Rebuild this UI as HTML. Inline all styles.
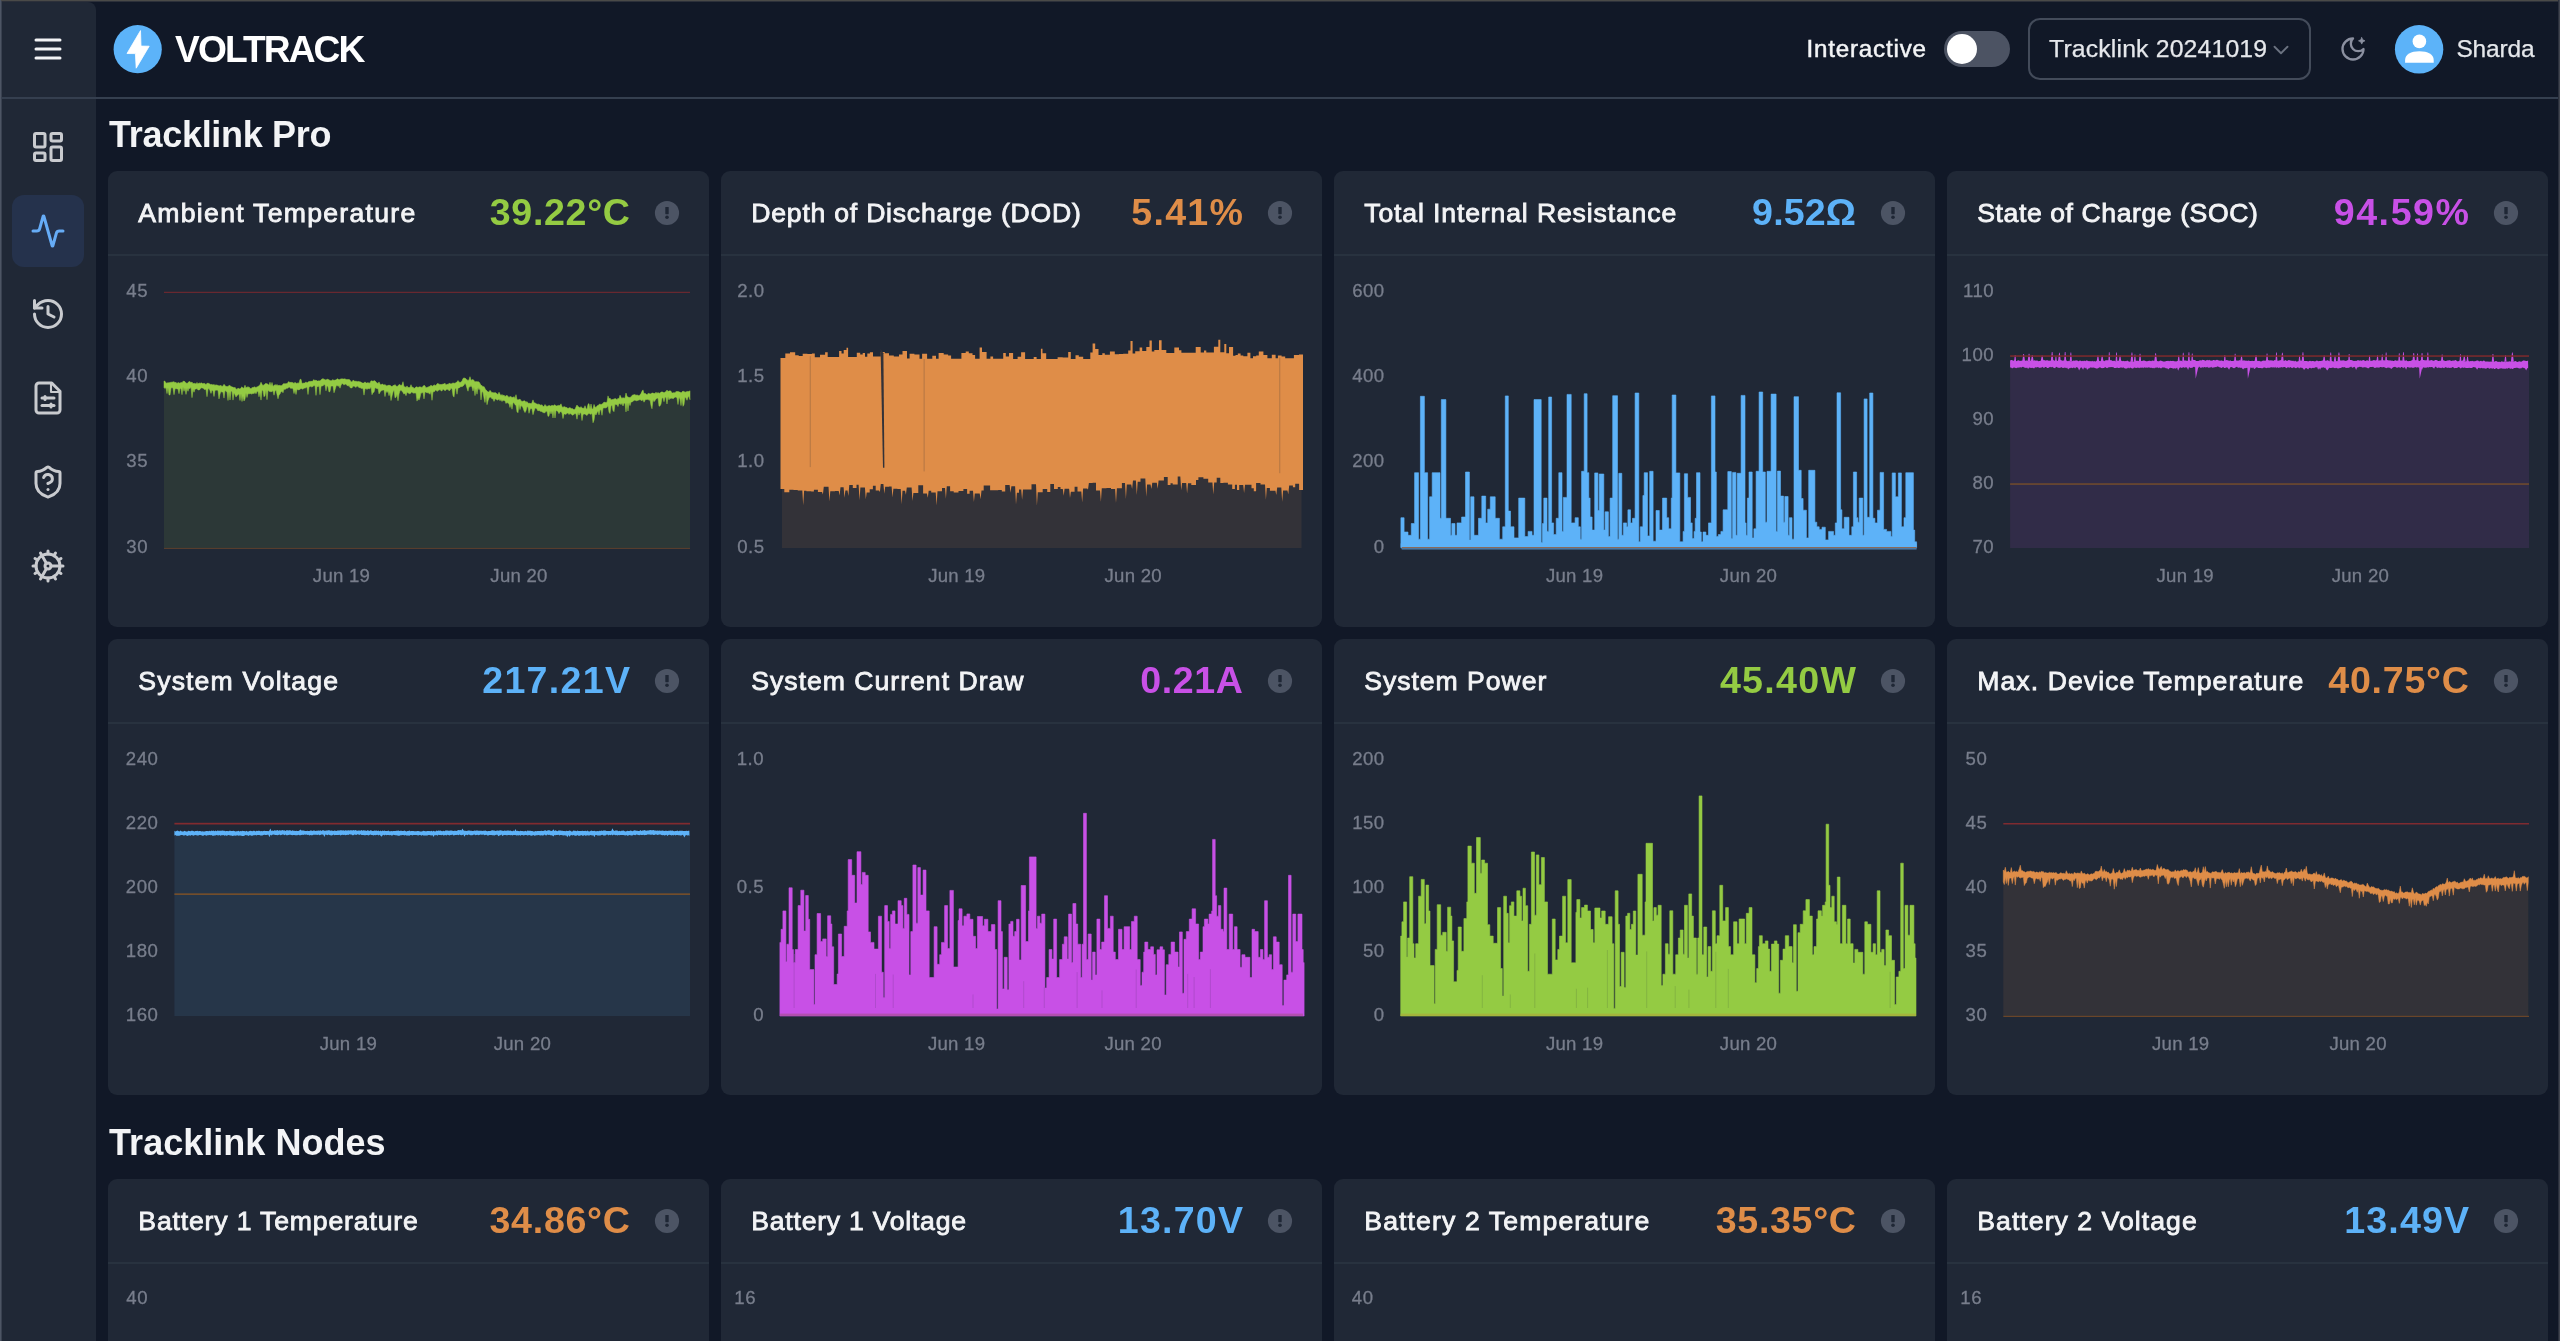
<!DOCTYPE html>
<html lang="en"><head><meta charset="utf-8"><title>VOLTRACK</title>
<style>
html,body{margin:0;padding:0;background:#111827;width:2560px;height:1341px;overflow:hidden}
body{width:2560px;height:1341px;position:relative;overflow:hidden;font-family:"Liberation Sans", sans-serif;}
.abs{position:absolute;display:block}
.t{position:absolute;white-space:pre;line-height:1;}
#sidebar{position:absolute;left:0;top:2px;width:96px;height:1339px;background:#202836;border-top-right-radius:8px}
#hdrline{position:absolute;left:0;top:97px;width:2560px;height:2px;background:#353f4f}
#active{position:absolute;left:12px;top:195px;width:72px;height:72px;border-radius:12px;background:#25324c}
.card{position:absolute;background:#202836;border-radius:9px;overflow:hidden}
.divider{position:absolute;left:0;top:83px;width:100%;height:2px;background:#28323f}
#toggle{position:absolute;left:1944px;top:31px;width:66px;height:36px;border-radius:18px;background:#4c5363}
#knob{position:absolute;left:3px;top:3px;width:30px;height:30px;border-radius:15px;background:#fff}
#select{position:absolute;left:2028px;top:18px;width:279px;height:58px;border:2px solid #434b5a;border-radius:12px}
#content{position:absolute;left:0;top:0;width:2560px;height:1341px;overflow:hidden;will-change:transform}
#winT{position:absolute;left:0;top:0;width:2560px;height:1px;background:#4a4a48}
#winT2{position:absolute;left:0;top:1px;width:2560px;height:1px;background:#2c303a}
#winL{position:absolute;left:0;top:0;width:1px;height:1341px;background:#4d5564}
#winL2{position:absolute;left:1px;top:1px;width:1px;height:1340px;background:#394150}
#winR{position:absolute;left:2558px;top:0;width:1px;height:1341px;background:#2a2f3c}
#winR2{position:absolute;left:2559px;top:0;width:1px;height:1341px;background:#41454f}
</style></head><body>
<div id="sidebar"></div>
<div id="hdrline"></div>
<div id="active"></div>
<div id="toggle"><div id="knob"></div></div>
<div id="select"></div>
<svg class="abs" style="left:112px;top:24px" width="52" height="52" viewBox="0 0 52 52"><circle cx="25.7" cy="25.2" r="24.1" fill="#5cb3f9"/><path d="M28.5 6.6 L15 29.5 L23.4 29.6 L24.2 44.2 L37.2 22.2 L29 22.1Z" fill="#fff" stroke="#fff" stroke-width="0.8" stroke-linejoin="round"/></svg>
<svg class="abs" style="left:2393px;top:23px" width="52" height="52" viewBox="0 0 52 52"><circle cx="26.1" cy="26.3" r="24.2" fill="#5cb3f9"/><circle cx="26.4" cy="18.4" r="6.8" fill="#fff"/><path d="M12.1 39.7 V37 C12.1 31.5 18 28.2 26.4 28.2 S40.7 31.5 40.7 37 V39.7Z" fill="#fff"/></svg>
<svg class="abs" style="left:29.799999999999997px;top:31.299999999999997px" width="36" height="36" viewBox="0 0 24 24" fill="none" stroke="#f3f4f6" stroke-width="2" stroke-linecap="round" stroke-linejoin="round"><path d="M4 12h16"/><path d="M4 6h16"/><path d="M4 18h16"/></svg><svg class="abs" style="left:30.0px;top:128.5px" width="36" height="36" viewBox="0 0 24 24" fill="none" stroke="#c9cbcf" stroke-width="2" stroke-linecap="round" stroke-linejoin="round"><rect width="7" height="9" x="3" y="3" rx="1"/><rect width="7" height="5" x="14" y="3" rx="1"/><rect width="7" height="9" x="14" y="12" rx="1"/><rect width="7" height="5" x="3" y="16" rx="1"/></svg><svg class="abs" style="left:30.0px;top:212.5px" width="36" height="36" viewBox="0 0 24 24" fill="none" stroke="#66acf6" stroke-width="2" stroke-linecap="round" stroke-linejoin="round"><path d="M22 12h-2.48a2 2 0 0 0-1.93 1.46l-2.35 8.36a.25.25 0 0 1-.48 0L9.24 2.18a.25.25 0 0 0-.48 0l-2.35 8.36A2 2 0 0 1 4.49 12H2"/></svg><svg class="abs" style="left:30.0px;top:296.0px" width="36" height="36" viewBox="0 0 24 24" fill="none" stroke="#c9cbcf" stroke-width="2" stroke-linecap="round" stroke-linejoin="round"><path d="M3 12a9 9 0 1 0 9-9 9.75 9.75 0 0 0-6.74 2.74L3 8"/><path d="M3 3v5h5"/><path d="M12 7v5l4 2"/></svg><svg class="abs" style="left:30.0px;top:380.0px" width="36" height="36" viewBox="0 0 24 24" fill="none" stroke="#c9cbcf" stroke-width="2" stroke-linecap="round" stroke-linejoin="round"><path d="M14.5 2H6a2 2 0 0 0-2 2v16a2 2 0 0 0 2 2h12a2 2 0 0 0 2-2V7.5L14.5 2z"/><path d="M14 2v6h6" stroke-width="1.4"/><path d="M8 12h8"/><path d="M10 11v2"/><path d="M8 17h8"/><path d="M14 16v2"/></svg><svg class="abs" style="left:30.0px;top:464.0px" width="36" height="36" viewBox="0 0 24 24" fill="none" stroke="#c9cbcf" stroke-width="2" stroke-linecap="round" stroke-linejoin="round"><path d="M20 13c0 5-3.5 7.5-7.66 8.95a1 1 0 0 1-.67-.01C7.5 20.5 4 18 4 13V6a1 1 0 0 1 1-1c2 0 4.5-1.2 6.24-2.72a1.17 1.17 0 0 1 1.52 0C14.51 3.81 17 5 19 5a1 1 0 0 1 1 1z"/><path d="M9.1 9a3 3 0 0 1 5.82 1c0 2-3 3-3 3"/><path d="M12 17h.01"/></svg><svg class="abs" style="left:29.6px;top:547.8px" width="36" height="36" viewBox="0 0 24 24" fill="none" stroke="#c9cbcf" stroke-width="2" stroke-linecap="round" stroke-linejoin="round"><path d="M12 20a8 8 0 1 0 0-16 8 8 0 0 0 0 16Z"/><path d="M12 14a2 2 0 1 0 0-4 2 2 0 0 0 0 4Z"/><path d="M12 2v2"/><path d="M12 22v-2"/><path d="m17 20.66-1-1.73"/><path d="M11 10.27 7 3.34"/><path d="m20.66 17-1.73-1"/><path d="m3.34 7 1.73 1"/><path d="M14 12h8"/><path d="M2 12h2"/><path d="m20.66 7-1.73 1"/><path d="m3.34 17 1.73-1"/><path d="m17 3.34-1 1.73"/><path d="m11 13.73-4 6.93"/></svg><svg class="abs" style="left:2267.6px;top:36.9px" width="26" height="26" viewBox="0 0 24 24" fill="none" stroke="#6b7280" stroke-width="1.7" stroke-linecap="round" stroke-linejoin="round"><path d="m6 9 6 6 6-6"/></svg><svg class="abs" style="left:2339.0px;top:35.0px" width="28" height="28" viewBox="0 0 24 24" fill="none" stroke="#8b90a0" stroke-width="2" stroke-linecap="round" stroke-linejoin="round"><path d="M12 3a6 6 0 0 0 9 9 9 9 0 1 1-9-9Z"/><path d="M19.5 2.2 l0.9 1.9 1.9 0.9 -1.9 0.9 -0.9 1.9 -0.9 -1.9 -1.9 -0.9 1.9 -0.9z" fill="#8b90a0" stroke-width="0.6"/></svg>
<div id="content"><div class="card" style="left:108px;top:171px;width:600.8px;height:455.5px"><div class="divider"></div></div><svg class="abs" style="left:653px;top:198.5px" width="28" height="28" viewBox="0 0 28 28"><circle cx="14" cy="14" r="12.1" fill="#4c5464"/><rect x="12.3" y="8" width="3.4" height="7.2" rx="0.6" fill="#1f2735"/><circle cx="14" cy="18.3" r="1.8" fill="#1f2735"/></svg><svg class="abs" style="left:108px;top:257px" width="600" height="369.5" viewBox="108 257 600 369.5" font-family="Liberation Sans, sans-serif" font-size="18.6" fill="#787e8c"><path d="M164 381 165 381.3 166 383 167 383.2 168 382.5 169 383.1 170 382.2 171 382.5 172 381.9 173 382.2 174 381.6 175 382.7 176 382.3 177 383.4 178 382.4 179 382.9 180 383.3 181 382.2 182 382.9 183 381.3 184 381.3 185 381.7 186 382.9 187 383.6 188 382.5 189 381.7 190 381.6 191 382.7 192 382 193 383.7 194 383.3 195 383.4 196 383.9 197 382.4 198 384.2 199 382.8 200 383.5 201 382.9 202 382.9 203 383.9 204 383 205 383.9 206 384.4 207 383.3 208 383.3 209 383.4 210 384.2 211 384.7 212 384.2 213 385.2 214 384.3 215 385.4 216 384.7 217 385.3 218 385.3 219 386.1 220 385.6 221 385.5 222 386.4 223 386.1 224 384.3 225 385.4 226 386.6 227 386.5 228 386.4 229 385.5 230 385.4 231 386.4 232 387.1 233 387 234 387.9 235 387.2 236 388.9 237 389.6 238 388 239 388.8 240 388.9 241 387.7 242 386.8 243 388.3 244 388.1 245 385.2 246 388.3 247 386.7 248 387.4 249 386.8 250 388.4 251 388.7 252 387.5 253 387.8 254 386.7 255 387.3 256 387.4 257 386.9 258 386.5 259 385.7 260 384.9 261 382.2 262 384.3 263 385.5 264 384.9 265 383.8 266 383.6 267 383.7 268 384.2 269 385.3 270 382.2 271 386.1 272 382.4 273 386.5 274 385.6 275 384.5 276 385.4 277 384.4 278 385.8 279 385.3 280 385.5 281 385.7 282 385.5 283 384.1 284 383.6 285 383.9 286 383.6 287 383.7 288 382.3 289 381.6 290 382.8 291 382.1 292 382.7 293 382.5 294 383.5 295 382.2 296 383.2 297 383.5 298 382.7 299 383.4 300 379.4 301 379.3 302 383.5 303 383.3 304 382.9 305 383.1 306 381.8 307 382.9 308 382.2 309 381.2 310 381.7 311 381.1 312 381.6 313 380.5 314 379.6 315 380.7 316 380 317 381.1 318 381 319 380.7 320 381.1 321 379.7 322 379.2 323 378.6 324 379.4 325 379.5 326 380.3 327 379.1 328 379.4 329 379.7 330 380.6 331 380.7 332 380.4 333 379.5 334 380.6 335 379.9 336 379.9 337 379 338 378.8 339 380 340 379.2 341 379 342 378.8 343 379 344 379 345 378.8 346 379.5 347 379.5 348 379.6 349 379.4 350 380.1 351 381.8 352 382 353 380.2 354 380.7 355 381.6 356 380.9 357 381.8 358 381.4 359 381.5 360 381.9 361 381.9 362 383 363 383 364 383.1 365 381.8 366 383.1 367 383 368 382.6 369 383.2 370 382.9 371 380.8 372 381 373 381.3 374 380.8 375 380.8 376 382.1 377 383.1 378 383.4 379 381.9 380 383.9 381 384.9 382 384 383 384.3 384 385.3 385 384.4 386 385.4 387 386.2 388 385.1 389 385.6 390 385.1 391 386.3 392 386.6 393 385.5 394 385.6 395 384.6 396 386.1 397 386.4 398 386.1 399 384.6 400 384.7 401 385.6 402 385.1 403 381.7 404 386.8 405 386.8 406 387.4 407 385.9 408 387.4 409 387.6 410 387.4 411 384.7 412 387.4 413 387.1 414 388.5 415 388.1 416 386.8 417 387 418 387.5 419 387 420 386.8 421 387.2 422 387.4 423 386.3 424 385.3 425 385.9 426 388 427 387.2 428 387.3 429 386.4 430 386.5 431 385.1 432 386.2 433 386.1 434 384.7 435 385.5 436 385.6 437 383.8 438 383.5 439 384.2 440 384.4 441 384.6 442 384.4 443 384.1 444 383.9 445 383.2 446 385.2 447 384.1 448 384.5 449 383.3 450 383.5 451 384.1 452 383.4 453 382.9 454 383.2 455 383.3 456 382.6 457 382.1 458 380.5 459 381.9 460 382.6 461 382 462 380.9 463 378.5 464 377.9 465 378.2 466 378.8 467 379.9 468 380.4 469 379.9 470 376.7 471 380.2 472 379.9 473 379.4 474 380.5 475 381.9 476 381.5 477 381.8 478 381.7 479 381.9 480 383.4 481 385.6 482 385.5 483 387 484 386.5 485 388.4 486 390.2 487 390.8 488 391.9 489 392.1 490 390.3 491 391.5 492 392.7 493 392.4 494 393.1 495 392.4 496 393.1 497 393.8 498 394.6 499 392.2 500 394.2 501 395.4 502 394.4 503 395.7 504 395.1 505 396.4 506 395.9 507 395.2 508 396.5 509 397.4 510 396.5 511 396.7 512 397.4 513 397.6 514 396.6 515 398.7 516 394.7 517 399.8 518 399.8 519 399.7 520 399.1 521 400.8 522 401.4 523 401.3 524 400.8 525 400.9 526 402.4 527 401.5 528 403.1 529 403.5 530 403 531 404.1 532 402.5 533 399.9 534 402.9 535 402.8 536 403.7 537 404 538 404.4 539 403.9 540 404.9 541 405.3 542 404.7 543 406.6 544 406.4 545 404.5 546 405.9 547 406.4 548 406 549 405.5 550 405.8 551 406.3 552 405 553 406.1 554 405.2 555 404.7 556 406 557 405.9 558 405.4 559 405.4 560 405.5 561 403.8 562 406.8 563 407.4 564 406.6 565 407 566 407.5 567 407.6 568 408.6 569 407.9 570 407.6 571 408.5 572 408.7 573 408.8 574 409.8 575 409.2 576 407 577 405 578 406.8 579 406.9 580 407.9 581 406.6 582 408.3 583 407.9 584 408.5 585 405.7 586 408.6 587 409.3 588 404.3 589 403.6 590 409.3 591 404 592 409 593 408.9 594 404.4 595 407.1 596 407.4 597 405.9 598 405.5 599 404.4 600 404 601 404.7 602 404.1 603 403.5 604 402 605 402.5 606 402.4 607 402.3 608 395.9 609 398.9 610 398.1 611 399.7 612 399.8 613 399.2 614 399.2 615 398.4 616 398.9 617 399.8 618 398.2 619 399 620 395.2 621 397.3 622 398.4 623 397.6 624 398.3 625 398 626 393 627 396.4 628 397 629 397.6 630 397.5 631 397 632 395.4 633 395 634 394.7 635 394.6 636 395.5 637 394.8 638 395.5 639 395.8 640 394.8 641 393.6 642 391.3 643 389.9 644 393.8 645 393.3 646 394.1 647 394.9 648 393.4 649 393.4 650 394 651 393.8 652 392.9 653 393.1 654 393.6 655 393.4 656 392.2 657 393.4 658 392.5 659 393.3 660 393.2 661 392 662 391.9 663 392.1 664 393 665 391.9 666 391.8 667 390 668 391.6 669 391.1 670 390.8 671 391.2 672 393.1 673 392.9 674 392.6 675 393 676 391.4 677 391.8 678 391.3 679 392 680 392 681 392.9 682 391.8 683 391.3 684 391.4 685 392.2 686 391.9 687 391.5 688 391.4 689 391.6 690 390.7 L690 548 L164 548Z" fill="#2c3837"/><path d="M164 381 165 381.3 166 383 167 383.2 168 382.5 169 383.1 170 382.2 171 382.5 172 381.9 173 382.2 174 381.6 175 382.7 176 382.3 177 383.4 178 382.4 179 382.9 180 383.3 181 382.2 182 382.9 183 381.3 184 381.3 185 381.7 186 382.9 187 383.6 188 382.5 189 381.7 190 381.6 191 382.7 192 382 193 383.7 194 383.3 195 383.4 196 383.9 197 382.4 198 384.2 199 382.8 200 383.5 201 382.9 202 382.9 203 383.9 204 383 205 383.9 206 384.4 207 383.3 208 383.3 209 383.4 210 384.2 211 384.7 212 384.2 213 385.2 214 384.3 215 385.4 216 384.7 217 385.3 218 385.3 219 386.1 220 385.6 221 385.5 222 386.4 223 386.1 224 384.3 225 385.4 226 386.6 227 386.5 228 386.4 229 385.5 230 385.4 231 386.4 232 387.1 233 387 234 387.9 235 387.2 236 388.9 237 389.6 238 388 239 388.8 240 388.9 241 387.7 242 386.8 243 388.3 244 388.1 245 385.2 246 388.3 247 386.7 248 387.4 249 386.8 250 388.4 251 388.7 252 387.5 253 387.8 254 386.7 255 387.3 256 387.4 257 386.9 258 386.5 259 385.7 260 384.9 261 382.2 262 384.3 263 385.5 264 384.9 265 383.8 266 383.6 267 383.7 268 384.2 269 385.3 270 382.2 271 386.1 272 382.4 273 386.5 274 385.6 275 384.5 276 385.4 277 384.4 278 385.8 279 385.3 280 385.5 281 385.7 282 385.5 283 384.1 284 383.6 285 383.9 286 383.6 287 383.7 288 382.3 289 381.6 290 382.8 291 382.1 292 382.7 293 382.5 294 383.5 295 382.2 296 383.2 297 383.5 298 382.7 299 383.4 300 379.4 301 379.3 302 383.5 303 383.3 304 382.9 305 383.1 306 381.8 307 382.9 308 382.2 309 381.2 310 381.7 311 381.1 312 381.6 313 380.5 314 379.6 315 380.7 316 380 317 381.1 318 381 319 380.7 320 381.1 321 379.7 322 379.2 323 378.6 324 379.4 325 379.5 326 380.3 327 379.1 328 379.4 329 379.7 330 380.6 331 380.7 332 380.4 333 379.5 334 380.6 335 379.9 336 379.9 337 379 338 378.8 339 380 340 379.2 341 379 342 378.8 343 379 344 379 345 378.8 346 379.5 347 379.5 348 379.6 349 379.4 350 380.1 351 381.8 352 382 353 380.2 354 380.7 355 381.6 356 380.9 357 381.8 358 381.4 359 381.5 360 381.9 361 381.9 362 383 363 383 364 383.1 365 381.8 366 383.1 367 383 368 382.6 369 383.2 370 382.9 371 380.8 372 381 373 381.3 374 380.8 375 380.8 376 382.1 377 383.1 378 383.4 379 381.9 380 383.9 381 384.9 382 384 383 384.3 384 385.3 385 384.4 386 385.4 387 386.2 388 385.1 389 385.6 390 385.1 391 386.3 392 386.6 393 385.5 394 385.6 395 384.6 396 386.1 397 386.4 398 386.1 399 384.6 400 384.7 401 385.6 402 385.1 403 381.7 404 386.8 405 386.8 406 387.4 407 385.9 408 387.4 409 387.6 410 387.4 411 384.7 412 387.4 413 387.1 414 388.5 415 388.1 416 386.8 417 387 418 387.5 419 387 420 386.8 421 387.2 422 387.4 423 386.3 424 385.3 425 385.9 426 388 427 387.2 428 387.3 429 386.4 430 386.5 431 385.1 432 386.2 433 386.1 434 384.7 435 385.5 436 385.6 437 383.8 438 383.5 439 384.2 440 384.4 441 384.6 442 384.4 443 384.1 444 383.9 445 383.2 446 385.2 447 384.1 448 384.5 449 383.3 450 383.5 451 384.1 452 383.4 453 382.9 454 383.2 455 383.3 456 382.6 457 382.1 458 380.5 459 381.9 460 382.6 461 382 462 380.9 463 378.5 464 377.9 465 378.2 466 378.8 467 379.9 468 380.4 469 379.9 470 376.7 471 380.2 472 379.9 473 379.4 474 380.5 475 381.9 476 381.5 477 381.8 478 381.7 479 381.9 480 383.4 481 385.6 482 385.5 483 387 484 386.5 485 388.4 486 390.2 487 390.8 488 391.9 489 392.1 490 390.3 491 391.5 492 392.7 493 392.4 494 393.1 495 392.4 496 393.1 497 393.8 498 394.6 499 392.2 500 394.2 501 395.4 502 394.4 503 395.7 504 395.1 505 396.4 506 395.9 507 395.2 508 396.5 509 397.4 510 396.5 511 396.7 512 397.4 513 397.6 514 396.6 515 398.7 516 394.7 517 399.8 518 399.8 519 399.7 520 399.1 521 400.8 522 401.4 523 401.3 524 400.8 525 400.9 526 402.4 527 401.5 528 403.1 529 403.5 530 403 531 404.1 532 402.5 533 399.9 534 402.9 535 402.8 536 403.7 537 404 538 404.4 539 403.9 540 404.9 541 405.3 542 404.7 543 406.6 544 406.4 545 404.5 546 405.9 547 406.4 548 406 549 405.5 550 405.8 551 406.3 552 405 553 406.1 554 405.2 555 404.7 556 406 557 405.9 558 405.4 559 405.4 560 405.5 561 403.8 562 406.8 563 407.4 564 406.6 565 407 566 407.5 567 407.6 568 408.6 569 407.9 570 407.6 571 408.5 572 408.7 573 408.8 574 409.8 575 409.2 576 407 577 405 578 406.8 579 406.9 580 407.9 581 406.6 582 408.3 583 407.9 584 408.5 585 405.7 586 408.6 587 409.3 588 404.3 589 403.6 590 409.3 591 404 592 409 593 408.9 594 404.4 595 407.1 596 407.4 597 405.9 598 405.5 599 404.4 600 404 601 404.7 602 404.1 603 403.5 604 402 605 402.5 606 402.4 607 402.3 608 395.9 609 398.9 610 398.1 611 399.7 612 399.8 613 399.2 614 399.2 615 398.4 616 398.9 617 399.8 618 398.2 619 399 620 395.2 621 397.3 622 398.4 623 397.6 624 398.3 625 398 626 393 627 396.4 628 397 629 397.6 630 397.5 631 397 632 395.4 633 395 634 394.7 635 394.6 636 395.5 637 394.8 638 395.5 639 395.8 640 394.8 641 393.6 642 391.3 643 389.9 644 393.8 645 393.3 646 394.1 647 394.9 648 393.4 649 393.4 650 394 651 393.8 652 392.9 653 393.1 654 393.6 655 393.4 656 392.2 657 393.4 658 392.5 659 393.3 660 393.2 661 392 662 391.9 663 392.1 664 393 665 391.9 666 391.8 667 390 668 391.6 669 391.1 670 390.8 671 391.2 672 393.1 673 392.9 674 392.6 675 393 676 391.4 677 391.8 678 391.3 679 392 680 392 681 392.9 682 391.8 683 391.3 684 391.4 685 392.2 686 391.9 687 391.5 688 391.4 689 391.6 690 390.7 L690 399.7 689 396.3 688 397.2 687 400.3 686 397.9 685 397 684 404.5 683 406.3 682 398 681 405.6 680 399.1 679 397.3 678 404.5 677 398 676 397 675 397.2 674 397.8 673 399 672 397.8 671 398.8 670 397.9 669 399.8 668 396.4 667 404 666 397.2 665 397.3 664 401.7 663 397.7 662 397.9 661 404 660 405.9 659 406.2 658 398 657 398.2 656 398.9 655 400.6 654 401.7 653 399.6 652 408.8 651 405.6 650 399.5 649 400.4 648 399 647 399.7 646 399.3 645 400.2 644 402.2 643 399.4 642 400.8 641 400.2 640 399.5 639 400.1 638 400.2 637 400.7 636 400.8 635 400.1 634 400.4 633 401.3 632 401.9 631 402 630 405.6 629 402.4 628 411 627 402.5 626 411.9 625 403.1 624 403.3 623 406 622 403.1 621 404.7 620 403.5 619 403.5 618 406.6 617 404.5 616 404.7 615 404.1 614 411.7 613 410.6 612 404.9 611 406.1 610 413.6 609 412.1 608 405.4 607 407.3 606 407.8 605 408.1 604 407.7 603 408.2 602 415.3 601 409.7 600 410 599 414.9 598 410.7 597 412.7 596 415 595 413.6 594 420.2 593 422.8 592 413.6 591 414 590 414.3 589 413.3 588 414 587 415.6 586 414.8 585 414.1 584 414 583 414.5 582 420.6 581 413 580 412.8 579 415.2 578 412.2 577 419.2 576 414.1 575 413.4 574 414.2 573 415.2 572 414.9 571 413.8 570 413.6 569 414.6 568 413.1 567 413 566 414.5 565 413.9 564 413.9 563 418.6 562 413.1 561 411.4 560 411.9 559 413.7 558 411.7 557 410.7 556 410.5 555 418 554 410.1 553 418 552 410.9 551 413.9 550 410.9 549 415.9 548 416.4 547 411.3 546 411.2 545 412.7 544 412.8 543 412.5 542 411.7 541 411.2 540 411.3 539 410.2 538 411 537 409.3 536 408 535 408.2 534 411.3 533 414.7 532 409.2 531 408.2 530 409.7 529 413.3 528 407.1 527 406.7 526 410.8 525 412.6 524 410.8 523 407.8 522 406.3 521 405.6 520 409.6 519 404.3 518 412.8 517 411.8 516 405.2 515 404.7 514 402.7 513 402.7 512 409.2 511 403.8 510 407.5 509 403.8 508 403.1 507 402.5 506 403.5 505 400.7 504 400.4 503 400.3 502 401.5 501 399.6 500 400.8 499 399.1 498 399.7 497 400.2 496 398.7 495 399.1 494 401.4 493 398.6 492 398.9 491 397.2 490 397.1 489 398.3 488 400.8 487 404.7 486 394.6 485 402.5 484 397.9 483 392.3 482 391.5 481 399.9 480 388.6 479 389.7 478 387.6 477 394.2 476 388.4 475 395.6 474 387.3 473 391.1 472 387.3 471 385.5 470 387.1 469 386.6 468 391.2 467 388.2 466 384.7 465 383.3 464 385 463 386 462 386.7 461 386.4 460 387.2 459 387.9 458 387.9 457 394.2 456 388.1 455 389.1 454 397.1 453 395.6 452 388.4 451 388.3 450 390.3 449 390.7 448 389.5 447 389.1 446 390.1 445 390.7 444 389.8 443 389 442 390.9 441 390.8 440 389.5 439 390.1 438 390.6 437 391.4 436 389.7 435 390.8 434 392.1 433 391.4 432 400.3 431 391.2 430 394.3 429 393.3 428 392.6 427 392.9 426 392.1 425 392.1 424 398.9 423 392.1 422 393.3 421 392.4 420 397.5 419 400.1 418 398.1 417 401.1 416 392.8 415 393.2 414 392.8 413 393.3 412 391.8 411 392.8 410 393.7 409 393.6 408 392.8 407 392.3 406 395.7 405 393 404 394.2 403 392.5 402 391.3 401 390 400 390.8 399 394.1 398 400.8 397 394.3 396 397.3 395 397.8 394 390 393 391.9 392 396 391 400.6 390 391.9 389 395.7 388 390.9 387 392.6 386 390.8 385 396.6 384 389.9 383 389.9 382 390.5 381 390.8 380 392.4 379 393.9 378 388.2 377 389 376 387.7 375 388.1 374 392.2 373 392.4 372 394.7 371 386.8 370 388.8 369 388.6 368 388.4 367 389.5 366 388.4 365 388.7 364 395.1 363 388.2 362 388.6 361 388.2 360 387.5 359 387.7 358 386.6 357 385.8 356 387.4 355 386.7 354 385.9 353 386.3 352 387.9 351 387.9 350 387.5 349 385.3 348 386.2 347 385.2 346 384.3 345 384 344 385.1 343 383.7 342 383.6 341 385.3 340 388.2 339 385.5 338 386.4 337 385 336 386.5 335 389.8 334 392.8 333 385.9 332 386.1 331 386.1 330 391.5 329 392 328 386.8 327 385.8 326 390.8 325 384.8 324 384.4 323 385.9 322 385.8 321 386.5 320 394.7 319 385.6 318 387 317 385.9 316 395.4 315 385.8 314 385.5 313 386.2 312 387.2 311 386.3 310 386.4 309 386.9 308 394.5 307 387.1 306 387.6 305 388.2 304 387.9 303 389.3 302 388.7 301 388.4 300 389.2 299 389.9 298 389.7 297 389.2 296 394.5 295 389.4 294 393.6 293 388.7 292 388.1 291 388.6 290 387.8 289 386.8 288 388.3 287 388.1 286 388.7 285 389.5 284 389.1 283 392.8 282 391.2 281 391.8 280 394 279 395 278 398.8 277 394.5 276 390.1 275 390.9 274 395.2 273 390.5 272 391.7 271 391.5 270 391.8 269 391 268 390.3 267 399.7 266 390.1 265 395.7 264 396.8 263 390.6 262 390.3 261 400.1 260 391.9 259 396.8 258 391.3 257 391.4 256 393.8 255 392.2 254 393.8 253 393 252 394.3 251 393.4 250 393.7 249 393.8 248 393.7 247 397.5 246 393.1 245 399 244 401 243 396 242 401.5 241 393.5 240 400.5 239 393.8 238 394.7 237 395.6 236 397.1 235 394.8 234 392.9 233 400.1 232 391.4 231 391 230 400 229 391.6 228 400.5 227 391.6 226 391.5 225 390.5 224 398.1 223 392.1 222 392.1 221 391.5 220 394.1 219 398.9 218 390.5 217 390.1 216 390.3 215 390.3 214 396.5 213 391.1 212 390 211 393.4 210 390.6 209 388.6 208 389.1 207 396.7 206 389.2 205 389.5 204 389.3 203 388.1 202 387.9 201 387.8 200 389.4 199 389.9 198 390 197 388.5 196 388.9 195 389.1 194 392.2 193 389.2 192 397.7 191 386.9 190 388.7 189 388 188 391.3 187 388.3 186 394.4 185 387.9 184 391.3 183 387 182 394.7 181 388.5 180 388.4 179 393.7 178 389 177 388.9 176 388.5 175 388.9 174 394.7 173 388.2 172 387.5 171 388.2 170 395 169 394.9 168 387.6 167 393.6 166 387.4 165 388.5 164 387.5Z" fill="#94cb43" stroke="#94cb43" stroke-width="0.5" stroke-linejoin="round"/><rect x="164" y="291.8" width="526" height="1.0" fill="#7b2a30"/><rect x="164" y="547.9" width="526" height="1.0" fill="#5e402d"/><g stroke="#787e8c" stroke-width="0.3"><text x="148.0" y="296.6" text-anchor="end" letter-spacing="0.5">45</text><text x="148.0" y="381.9" text-anchor="end" letter-spacing="0.5">40</text><text x="148.0" y="467.3" text-anchor="end" letter-spacing="0.5">35</text><text x="148.0" y="552.6" text-anchor="end" letter-spacing="0.5">30</text><text x="341.5" y="581.6" text-anchor="middle" letter-spacing="0.25">Jun 19</text><text x="519.0" y="581.6" text-anchor="middle" letter-spacing="0.25">Jun 20</text></g></svg><div class="card" style="left:721px;top:171px;width:600.8px;height:455.5px"><div class="divider"></div></div><svg class="abs" style="left:1266px;top:198.5px" width="28" height="28" viewBox="0 0 28 28"><circle cx="14" cy="14" r="12.1" fill="#4c5464"/><rect x="12.3" y="8" width="3.4" height="7.2" rx="0.6" fill="#1f2735"/><circle cx="14" cy="18.3" r="1.8" fill="#1f2735"/></svg><svg class="abs" style="left:721px;top:257px" width="600" height="369.5" viewBox="721 257 600 369.5" font-family="Liberation Sans, sans-serif" font-size="18.6" fill="#787e8c"><rect x="782.0" y="475.0" width="519.5" height="73.0" fill="#333238"/><path d="M780.5 357.9V357.9H785.3V353.5H790V352.3H795.2V355.2H798.7V356H802.7V353.7H807.4V354.1H811.9V353.6H814.8V357.3H820V354.7H825.1V352.3H827.7V357.1H831.9V357.1H835.9V357H839.1V350.9H841.5V353.6H843.7V350H846.5V347.8H848.1V356.9H851.5V356.9H856.8V352.7H860.2V354.4H862.7V353.1H865V356.7H867.3V353.6H869.9V352.3H873V356.6H878.2V356.6H880.8V352.1H884.8V353.2H889V355.5H893.8V356.5H899V354.6H902.5V351H907V358.6H909.6V353.8H914.4V354.4H919.5V358.7H922.1V353.8H927.1V358.7H932.3V355.8H936V358.7H938.6V353H943.7V354.5H948.1V355.6H951.1V358.7H954.8V358.7H957.2V358.7H961.4V353.1H965.7V351.4H968.8V353.2H972.5V355H975.1V358.8H979.6V347.6H982V352.1H986.6V358.8H990.4V356.6H993.1V358.8H998.2V358.8H1003.2V352.9H1005.8V356.4H1009V353.1H1013.1V358.9H1017.6V356.8H1021.1V352.3H1025.1V358.9H1028.5V358.9H1030.8V358.9H1033.7V357.1H1036.6V358.9H1040.9V348.7H1042.5V353.3H1046.2V358.9H1050.5V358.9H1053V358.9H1057.6V357.3H1062.7V357.4H1068.2V351.9H1070.8V359H1075.5V355.2H1078.8V356.8H1083.2V359H1087.3V359H1090.3V352.4H1092.6V343.5H1095.2V349.1H1098.5V355H1102.3V353.2H1104.8V354.7H1109.9V351.4H1114.8V354.2H1119V354H1123.2V353.8H1128.2V350.5H1130.5V341.1H1132.6V353.5H1135.2V351.3H1139.6V347.6H1142.2V351H1146.3V347H1149.5V340.6H1151.8V351.6H1154.3V349.9H1159V340.3H1161.6V350.1H1166.3V353H1170.6V353H1174.3V347.5H1179V350.3H1181.4V352.8H1186.8V352.7H1190.6V352.7H1195.7V347H1200.7V352.5H1204V350.5H1206.3V352.4H1210.8V352.4H1213.9V346.7H1218.3V339.7H1220.3V352.2H1224.3V344.1H1226.3V353.3H1229V346.9H1233.1V355.8H1235.5V355H1237.8V353.5H1240.6V355.5H1243.3V356.3H1247.4V352.8H1250.4V358.3H1253V356.3H1256.2V355.4H1258.8V351.4H1263.4V355H1267.4V358.3H1271.8V354.7H1275.6V358.3H1277.9V355.5H1281.6V356.5H1285.2V358.3H1290.1V358.3H1293.9V355H1299V354.4H1303 L1303 490.1 L1299.1 490.1 L1299.1 483.7 L1295.2 483.7 L1295.2 487.3 L1292.9 487.3 L1292.9 485.4 L1289.2 485.4 L1288.3 494.2 L1287.4 490.5 L1283.1 490.5 L1282.2 501.8 L1281.3 487.6 L1277.2 487.6 L1276.3 495 L1275.4 490.7 L1272.1 490.7 L1272.1 490.8 L1269.9 490.8 L1269.9 487.9 L1266.8 487.9 L1265.9 499.7 L1265 484.5 L1260.5 484.5 L1260.5 483.1 L1256.1 483.1 L1256.1 491.2 L1253.8 491.2 L1253.8 488.2 L1251.5 488.2 L1251.5 484.8 L1247.4 484.8 L1247.4 484.8 L1245 484.8 L1244.1 493 L1243.2 484.9 L1239.2 484.9 L1239.2 490 L1237 490 L1237 484.8 L1234.9 484.8 L1234.9 489 L1232.2 489 L1232.2 484.4 L1227.9 484.4 L1227.9 482.7 L1223.4 482.7 L1223.4 482.9 L1220.3 482.9 L1220.3 477.7 L1216.7 477.7 L1216.7 482.6 L1214.2 482.6 L1213.3 494.6 L1212.4 482.5 L1208.2 482.5 L1208.2 478.8 L1203.4 478.8 L1203.4 477.2 L1198.4 477.2 L1198.4 480 L1196 480 L1196 484.9 L1191.3 484.9 L1191.3 483.3 L1188 483.3 L1187.1 493.6 L1186.2 483.1 L1182.1 483.1 L1181.2 490.3 L1180.3 476.4 L1177.7 476.4 L1177.7 484.6 L1172.7 484.6 L1172.7 483.3 L1170.5 483.3 L1170.5 485 L1167.7 485 L1167.7 477.1 L1163.9 477.1 L1163.9 480.4 L1160.6 480.4 L1160.6 480.5 L1158.6 480.5 L1157.7 488.7 L1156.8 482.8 L1152.3 482.8 L1151.4 489 L1150.5 484.6 L1147.1 484.6 L1146.2 496.7 L1145.3 478.4 L1140.5 478.4 L1140.5 481.7 L1137.7 481.7 L1136.8 495.1 L1135.9 480.5 L1133 480.5 L1132.1 489 L1131.2 484.5 L1126.8 484.5 L1125.9 498.9 L1125 483.1 L1121.9 483.1 L1121.9 488.3 L1116.9 488.3 L1116 502.9 L1115.1 489 L1111 489 L1111 487.9 L1106.5 487.9 L1106.5 488.3 L1101.8 488.3 L1100.9 501.7 L1100 490.4 L1096 490.4 L1096 482.8 L1092.6 482.8 L1092.6 483.1 L1088.9 483.1 L1088 489.5 L1087.1 488.6 L1083.1 488.6 L1082.2 502.4 L1081.3 491.6 L1077.5 491.6 L1077.5 486.7 L1074.6 486.7 L1074.6 491.7 L1070.9 491.7 L1070 498.1 L1069.1 488.8 L1064.6 488.8 L1063.7 495.8 L1062.8 488.9 L1060.5 488.9 L1060.5 486.9 L1057.8 486.9 L1057.8 489 L1054 489 L1054 484 L1050.3 484 L1050.3 492.1 L1047.2 492.1 L1047.2 489.1 L1042.7 489.1 L1042.7 492.2 L1037.8 492.2 L1036.9 505.8 L1036 484.3 L1031.5 484.3 L1031.5 489.4 L1026.5 489.4 L1026.5 489.5 L1023 489.5 L1022.1 499.8 L1021.2 489.6 L1019 489.6 L1019 492.7 L1016.9 492.7 L1016 504.6 L1015.1 486.3 L1011.4 486.3 L1010.5 492.8 L1009.6 484.9 L1005.2 484.9 L1005.2 491.5 L1001.8 491.5 L1001.8 490.1 L998.2 490.1 L998.2 490.2 L994.1 490.2 L994.1 490.3 L990.1 490.3 L990.1 485.4 L987 485.4 L987 485.4 L983.7 485.4 L983.7 490.5 L981.5 490.5 L980.6 499.2 L979.7 493.6 L974.8 493.6 L973.9 502.1 L973 490.8 L969.6 490.8 L969.6 493.8 L967.1 493.8 L967.1 488.9 L963.4 488.9 L963.4 491 L958.5 491 L958.5 492.6 L953.7 492.6 L953.7 491.2 L950.1 491.2 L950.1 486.3 L946.8 486.3 L945.9 498.7 L945 487.9 L942 487.9 L942 491.3 L937.5 491.3 L936.6 505.6 L935.7 492.4 L931.2 492.4 L931.2 490.7 L928.7 490.7 L927.8 497.8 L926.9 493.4 L923.1 493.4 L923.1 485.2 L918.3 485.2 L918.3 493 L913.4 493 L912.5 501 L911.6 487.6 L906.8 487.6 L905.9 494.8 L905 490.7 L902.5 490.7 L901.6 504.2 L900.7 488.9 L897.4 488.9 L897.4 488.8 L893.4 488.8 L892.5 497.5 L891.6 486.6 L889 486.6 L889 486.7 L885.2 486.7 L884.3 493.8 L883.4 483.9 L880.8 483.9 L879.9 491.9 L879 490.6 L875.7 490.6 L875.7 485.7 L872.9 485.7 L872.9 489.3 L869.7 489.3 L869.7 492.4 L866.7 492.4 L865.8 499.2 L864.9 487.6 L860.4 487.6 L859.5 500.3 L858.6 484.8 L856.5 484.8 L856.5 487.9 L852.8 487.9 L852.8 485.1 L849.3 485.1 L848.4 496 L847.5 490.5 L845.4 490.5 L844.5 497.8 L843.6 487.2 L840.5 487.2 L839.6 495.6 L838.7 491.1 L835 491.1 L835 491.3 L830.3 491.3 L829.4 501.5 L828.5 486.7 L823.8 486.7 L822.9 494.6 L822 492.1 L817.9 492.1 L817.9 489.8 L813.9 489.8 L813.9 491.4 L811.2 491.4 L811.2 491.2 L806.4 491.2 L806.4 490.8 L804.1 490.8 L803.2 505.3 L802.3 490.4 L797.7 490.4 L797.7 490 L793.5 490 L793.5 489.7 L789.3 489.7 L789.3 492.3 L784.3 492.3 L784.3 488.9 L780.5 488.9Z" fill="#df8d48"/><path d="M880.6 349.0 L883.4 353.3 L884.4 467.8 L883.0 467.8Z" fill="#333238"/><rect x="809.8" y="356.1" width="0.8" height="111.0" fill="#aa7143"/><rect x="923.7" y="359.0" width="0.8" height="112.4" fill="#aa7143"/><rect x="1279.4" y="357.6" width="0.8" height="115.6" fill="#aa7143"/><g stroke="#787e8c" stroke-width="0.3"><text x="764.5" y="296.6" text-anchor="end" letter-spacing="0.5">2.0</text><text x="764.5" y="381.9" text-anchor="end" letter-spacing="0.5">1.5</text><text x="764.5" y="467.3" text-anchor="end" letter-spacing="0.5">1.0</text><text x="764.5" y="552.6" text-anchor="end" letter-spacing="0.5">0.5</text><text x="956.8" y="581.6" text-anchor="middle" letter-spacing="0.25">Jun 19</text><text x="1133.2" y="581.6" text-anchor="middle" letter-spacing="0.25">Jun 20</text></g></svg><div class="card" style="left:1334px;top:171px;width:600.8px;height:455.5px"><div class="divider"></div></div><svg class="abs" style="left:1879px;top:198.5px" width="28" height="28" viewBox="0 0 28 28"><circle cx="14" cy="14" r="12.1" fill="#4c5464"/><rect x="12.3" y="8" width="3.4" height="7.2" rx="0.6" fill="#1f2735"/><circle cx="14" cy="18.3" r="1.8" fill="#1f2735"/></svg><svg class="abs" style="left:1334px;top:257px" width="600" height="369.5" viewBox="1334 257 600 369.5" font-family="Liberation Sans, sans-serif" font-size="18.6" fill="#787e8c"><path d="M1400.9 548V517.7H1404.1V532H1408V535.3H1411.3V523.5H1414.6V472.7H1418.5V539.2H1420.4V396.3H1424.4V472.7H1427.6V539.2H1429.6V496.8H1432.2V472.7H1440V518.3H1441.3V399.6H1445.9V518.3H1450.5V535.3H1451.8V523.5H1455V535.3H1457V522.9H1461.6V517H1465.5V472H1469.4V539.9H1470.7V496.8H1474V535.3H1478.5V518.3H1481.8V496.1H1485.7V522.9H1487.7V509.2H1490.3V496.8H1495.2V518.3H1499.4V539.2H1502.7V526.8H1505.3V395.9H1508.3V511.1H1510.5V526.8H1514V537.9H1518.7V498.1H1524.8V536.6H1528.1V531.4H1532V535.3H1534V399.6H1541.2V542.5H1542.5V523.5H1543.8V498.1H1547V531.4H1548.7V397H1551.6V522.9H1553.6V534.6H1556.2V518.3H1558.8V472.7H1562V531.4H1563.3V497.4H1567V394.4H1571.2V522.9H1575.1V517.7H1578.3V526.8H1580.3V539.2H1581.6V471.3H1584.2V393.7H1587.1V472.7H1588.8V498.1H1590.1V517H1592.1V530.1H1594.7V472.9H1597.9V510.5H1599.2V474H1603.8V530.1H1605.1V511.8H1608.4V536.6H1610.1V498.1H1612.7V395.7H1617.5V539.2H1618.8V473.3H1621.8V535.3H1623.4V522.9H1626.6V526.8H1627.9V509.8H1630.5V522.9H1632.5V518.3H1635.1V393H1638.8V541.8H1640.3V526.8H1642.9V495.5H1644.2V472.7H1647.5V535.9H1649.7V471.3H1653.1V541.2H1656V510.5H1659.3V530.1H1662.5V498.1H1666.7V517.7H1668.7V528.8H1671.3V498.1H1672.2V395H1675.9V472.9H1679.8V541.8H1683.1V531.4H1684.4V473.7H1687.6V497.4H1690.5V522.9H1692.2V538.6H1694.1V531.4H1695.2V518.3H1696.5V472.7H1700V532H1701.3V541.8H1703V532H1705.9V535.3H1708.5V522.9H1711.4V395.9H1715V472H1716.3V536.6H1718.3V534.6H1720.9V531.4H1723.1V509.8H1727.8V471.6H1731.3V538.6H1732.6V472.4H1735.9V535.3H1737.2V473.3H1741.1V395.4H1745V522.9H1746.1V535.3H1747.4V498.1H1749V472H1752.2V537.9H1753.9V528.8H1756.1V471.3H1759.1V392H1762.7V472H1765.3V522.2H1767V471.3H1771.1V394.1H1776.1V531.4H1777.4V471.1H1780.5V496.1H1783.5V522.2H1784.8V496.5H1788.1V535.3H1789.4V517.7H1792V539.2H1794V396.7H1798.5V470.3H1801.2V498.5H1803.1V510.2H1806.4V537.9H1808.7V470.3H1814.9V522.2H1816.8V526.8H1819.2V529.4H1822V527.2H1825.3V539.9H1828.6V531.4H1833.5V535.3H1835.3V522.9H1837V392.8H1840.6V509.8H1841.9V528.8H1844.2V517.3H1849V535.3H1851.8V526.8H1853.4V472H1856.6V517.7H1857.9V522.2H1859.2V498.1H1862.8V535.3H1864.1V398.9H1867.1V517.3H1869.7V393H1872.9V518.3H1874.9V522.9H1877.5V510.2H1880.1V472.4H1883.6V529.4H1886.6V531.4H1890.9V536.6H1892.2V472.9H1895.4V496.8H1898.4V472.9H1901.4V526.8H1904V517.7H1905.8V472.7H1913.4V530.1H1914.7V541.8H1916.6V548Z" fill="#5db2f8" stroke="#5db2f8" stroke-width="0.6" stroke-linejoin="miter"/><rect x="1400.7" y="543.4" width="515.9" height="3.6" fill="#5db2f8"/><rect x="1401.7" y="547.0" width="514.9" height="1.3" fill="#8a6a5a"/><rect x="1401.7" y="548.3" width="514.9" height="1.2" fill="#4f88bd"/><g stroke="#787e8c" stroke-width="0.3"><text x="1384.7" y="296.6" text-anchor="end" letter-spacing="0.5">600</text><text x="1384.7" y="381.9" text-anchor="end" letter-spacing="0.5">400</text><text x="1384.7" y="467.3" text-anchor="end" letter-spacing="0.5">200</text><text x="1384.7" y="552.6" text-anchor="end" letter-spacing="0.5">0</text><text x="1574.6" y="581.6" text-anchor="middle" letter-spacing="0.25">Jun 19</text><text x="1748.5" y="581.6" text-anchor="middle" letter-spacing="0.25">Jun 20</text></g></svg><div class="card" style="left:1947px;top:171px;width:600.8px;height:455.5px"><div class="divider"></div></div><svg class="abs" style="left:2492px;top:198.5px" width="28" height="28" viewBox="0 0 28 28"><circle cx="14" cy="14" r="12.1" fill="#4c5464"/><rect x="12.3" y="8" width="3.4" height="7.2" rx="0.6" fill="#1f2735"/><circle cx="14" cy="18.3" r="1.8" fill="#1f2735"/></svg><svg class="abs" style="left:1947px;top:257px" width="600" height="369.5" viewBox="1947 257 600 369.5" font-family="Liberation Sans, sans-serif" font-size="18.6" fill="#787e8c"><rect x="2010.1" y="364.3" width="518.9" height="183.7" fill="#312c48"/><rect x="2010.1" y="483.4" width="518.9000000000001" height="1.3" fill="#7d5129"/><path d="M2010.1 360.6 2011.1 360.1 2012.1 359.9 2013.1 360.8 2014.1 360.5 2015.1 360 2016.1 361.2 2017.1 360.8 2018.1 360.3 2019.1 360.6 2020.1 361 2021.1 360.6 2022.1 360.9 2023.1 360.1 2024.1 361 2025.1 360.8 2026.1 360.5 2027.1 360.6 2028.1 361.2 2029.1 361.3 2030.1 360.5 2031.1 361.2 2032.1 360.6 2033.1 360.9 2034.1 360.3 2035.1 360.6 2036.1 360.8 2037.1 360.2 2038.1 361.2 2039.1 361 2040.1 361.1 2041.1 360.6 2042.1 360.1 2043.1 360.3 2044.1 359.9 2045.1 360.4 2046.1 360.4 2047.1 360.1 2048.1 360.7 2049.1 360.6 2050.1 361 2051.1 360.3 2052.1 360.6 2053.1 360 2054.1 360.4 2055.1 360.8 2056.1 360.3 2057.1 360.9 2058.1 360.6 2059.1 360.2 2060.1 360.1 2061.1 360.1 2062.1 360.8 2063.1 360.4 2064.1 360.6 2065.1 361.3 2066.1 360.3 2067.1 360.9 2068.1 361.2 2069.1 360.6 2070.1 361.6 2071.1 361.5 2072.1 361.2 2073.1 360.6 2074.1 360.7 2075.1 360.6 2076.1 360.6 2077.1 360.3 2078.1 361.2 2079.1 361.1 2080.1 360.2 2081.1 361.3 2082.1 360.8 2083.1 361.2 2084.1 360.5 2085.1 361.2 2086.1 360.4 2087.1 360.5 2088.1 361 2089.1 361.2 2090.1 360.9 2091.1 361.4 2092.1 360.8 2093.1 361.6 2094.1 361 2095.1 361.5 2096.1 361.3 2097.1 360.6 2098.1 360.4 2099.1 360.8 2100.1 361.2 2101.1 360.8 2102.1 361 2103.1 360.4 2104.1 361.2 2105.1 360.5 2106.1 360.3 2107.1 360.2 2108.1 360.3 2109.1 360.2 2110.1 360.3 2111.1 360.1 2112.1 360.8 2113.1 361.1 2114.1 360.5 2115.1 361.3 2116.1 361.2 2117.1 360.9 2118.1 360.5 2119.1 361.2 2120.1 360.4 2121.1 360.5 2122.1 361.2 2123.1 360.8 2124.1 361.3 2125.1 360.9 2126.1 361.3 2127.1 360.6 2128.1 361 2129.1 361.7 2130.1 361.6 2131.1 361.2 2132.1 361.2 2133.1 361.7 2134.1 361.5 2135.1 360.8 2136.1 360.8 2137.1 360.8 2138.1 360.8 2139.1 361.3 2140.1 360.8 2141.1 361.1 2142.1 361.1 2143.1 360.6 2144.1 360.6 2145.1 360.7 2146.1 361.2 2147.1 361.2 2148.1 361.1 2149.1 360.8 2150.1 360.7 2151.1 361.3 2152.1 360.5 2153.1 360.8 2154.1 360.7 2155.1 360.9 2156.1 360.7 2157.1 361.1 2158.1 361.3 2159.1 361.2 2160.1 360.6 2161.1 360.8 2162.1 360.9 2163.1 361.6 2164.1 361.4 2165.1 361.6 2166.1 360.9 2167.1 361 2168.1 360.7 2169.1 361.3 2170.1 360.7 2171.1 361 2172.1 361 2173.1 360.7 2174.1 361.2 2175.1 361.3 2176.1 361.4 2177.1 361.1 2178.1 361.1 2179.1 361 2180.1 360.8 2181.1 360.6 2182.1 361.2 2183.1 361.2 2184.1 360.5 2185.1 360.5 2186.1 360.4 2187.1 361 2188.1 360.6 2189.1 359.9 2190.1 360.6 2191.1 361 2192.1 360.5 2193.1 359.8 2194.1 360.1 2195.1 360.1 2196.1 360.9 2197.1 360.9 2198.1 360.9 2199.1 360.8 2200.1 360 2201.1 360.8 2202.1 359.7 2203.1 359.9 2204.1 359.9 2205.1 360.8 2206.1 360.6 2207.1 359.8 2208.1 360.6 2209.1 359.7 2210.1 360.6 2211.1 360.6 2212.1 360.7 2213.1 360.1 2214.1 360 2215.1 360.5 2216.1 360 2217.1 359.8 2218.1 360.2 2219.1 360.4 2220.1 360.8 2221.1 360.5 2222.1 360.5 2223.1 361.2 2224.1 360.6 2225.1 360.8 2226.1 360.1 2227.1 360.3 2228.1 360.3 2229.1 361.1 2230.1 360.3 2231.1 361.1 2232.1 361.1 2233.1 361 2234.1 360.6 2235.1 360.9 2236.1 360.6 2237.1 360.5 2238.1 360.8 2239.1 360.2 2240.1 360.3 2241.1 360.8 2242.1 361.1 2243.1 360.5 2244.1 360.2 2245.1 360.8 2246.1 360.5 2247.1 361.1 2248.1 360.4 2249.1 360.7 2250.1 361.1 2251.1 360.9 2252.1 360.8 2253.1 361 2254.1 360.9 2255.1 360.8 2256.1 360.8 2257.1 361 2258.1 361.1 2259.1 360.8 2260.1 361.3 2261.1 361.5 2262.1 360.9 2263.1 360.5 2264.1 360.7 2265.1 360.5 2266.1 360.8 2267.1 360.9 2268.1 360.1 2269.1 360.5 2270.1 360.3 2271.1 360.5 2272.1 360.2 2273.1 361.1 2274.1 360.3 2275.1 360 2276.1 360.5 2277.1 360.7 2278.1 360.7 2279.1 360.5 2280.1 360.2 2281.1 360.1 2282.1 361 2283.1 361 2284.1 361.1 2285.1 360 2286.1 360.4 2287.1 361 2288.1 360.2 2289.1 360.1 2290.1 360.5 2291.1 360.6 2292.1 361.1 2293.1 360.5 2294.1 361.4 2295.1 360.4 2296.1 361.4 2297.1 361.6 2298.1 361.3 2299.1 360.9 2300.1 360.5 2301.1 360.7 2302.1 360.5 2303.1 361.6 2304.1 361.1 2305.1 360.9 2306.1 360.9 2307.1 361 2308.1 361.5 2309.1 360.9 2310.1 360.7 2311.1 361.3 2312.1 360.9 2313.1 361.1 2314.1 361.2 2315.1 361.5 2316.1 360.8 2317.1 360.4 2318.1 361.2 2319.1 360.9 2320.1 361.1 2321.1 360.9 2322.1 360.4 2323.1 360.5 2324.1 360.6 2325.1 360.8 2326.1 360.7 2327.1 360.3 2328.1 360.3 2329.1 361.2 2330.1 360.9 2331.1 360.7 2332.1 360.9 2333.1 361.6 2334.1 361.6 2335.1 361.1 2336.1 361.3 2337.1 360.9 2338.1 361.3 2339.1 360.9 2340.1 360.4 2341.1 360.5 2342.1 360.6 2343.1 360.2 2344.1 360.6 2345.1 360.8 2346.1 361 2347.1 360.2 2348.1 360.2 2349.1 359.9 2350.1 360 2351.1 360 2352.1 360.3 2353.1 360.7 2354.1 360.9 2355.1 360.7 2356.1 361 2357.1 360.6 2358.1 360.1 2359.1 360.7 2360.1 360.2 2361.1 360.7 2362.1 360.5 2363.1 360.1 2364.1 360.3 2365.1 361 2366.1 360.8 2367.1 360 2368.1 361 2369.1 360.8 2370.1 361 2371.1 360.7 2372.1 360.8 2373.1 360.3 2374.1 359.9 2375.1 360.5 2376.1 360.2 2377.1 360 2378.1 360.7 2379.1 360.5 2380.1 360.3 2381.1 360.4 2382.1 360.4 2383.1 360.3 2384.1 360.3 2385.1 360.4 2386.1 360.8 2387.1 360 2388.1 360.2 2389.1 360.6 2390.1 360.2 2391.1 360.7 2392.1 360.6 2393.1 361.1 2394.1 361.1 2395.1 360.1 2396.1 360.7 2397.1 360.6 2398.1 360.8 2399.1 360.6 2400.1 360.4 2401.1 360.6 2402.1 360.6 2403.1 361 2404.1 360.3 2405.1 361.1 2406.1 360.1 2407.1 361.1 2408.1 361.2 2409.1 361 2410.1 360.9 2411.1 360.8 2412.1 360.1 2413.1 360.2 2414.1 360.7 2415.1 359.9 2416.1 360.6 2417.1 359.8 2418.1 360.4 2419.1 360.9 2420.1 360.7 2421.1 359.8 2422.1 360.1 2423.1 360.1 2424.1 360 2425.1 360.5 2426.1 359.9 2427.1 360.8 2428.1 360.7 2429.1 360.5 2430.1 360.5 2431.1 359.9 2432.1 360.3 2433.1 360.7 2434.1 360.7 2435.1 360.1 2436.1 360.1 2437.1 360.2 2438.1 360.9 2439.1 361 2440.1 360.6 2441.1 361 2442.1 361 2443.1 360.3 2444.1 360.4 2445.1 361 2446.1 361.1 2447.1 360.4 2448.1 360.6 2449.1 360.3 2450.1 360.3 2451.1 361 2452.1 360.8 2453.1 360.4 2454.1 360.7 2455.1 360.1 2456.1 360.3 2457.1 361.2 2458.1 361.3 2459.1 360.9 2460.1 360.2 2461.1 360.9 2462.1 360.6 2463.1 360.5 2464.1 361.4 2465.1 361.4 2466.1 361.4 2467.1 360.5 2468.1 360.6 2469.1 361.5 2470.1 361.1 2471.1 361.2 2472.1 360.8 2473.1 361.2 2474.1 361.3 2475.1 361.2 2476.1 360.7 2477.1 360.4 2478.1 360.6 2479.1 361.5 2480.1 360.9 2481.1 360.8 2482.1 361.4 2483.1 360.8 2484.1 360.6 2485.1 361.4 2486.1 361.4 2487.1 361.4 2488.1 361.5 2489.1 361.8 2490.1 361.6 2491.1 361.7 2492.1 361.4 2493.1 361.3 2494.1 361.7 2495.1 361.3 2496.1 361 2497.1 361.6 2498.1 361.9 2499.1 361.5 2500.1 362.2 2501.1 361.4 2502.1 361.3 2503.1 361.9 2504.1 361.2 2505.1 362.2 2506.1 361.7 2507.1 361.6 2508.1 361.7 2509.1 361.3 2510.1 361.6 2511.1 361.4 2512.1 361.2 2513.1 361.8 2514.1 361.5 2515.1 361.1 2516.1 361.3 2517.1 361.9 2518.1 361.8 2519.1 361.3 2520.1 361.5 2521.1 361.7 2522.1 361.3 2523.1 360.6 2524.1 360.6 2525.1 360.7 2526.1 361 2527.1 361.1 2528.1 360.5 L2528.1 367.7 2527.1 368.5 2526.1 370.5 2525.1 368.4 2524.1 368.1 2523.1 367.8 2522.1 367.5 2521.1 368.5 2520.1 368.3 2519.1 368.4 2518.1 368 2517.1 367.7 2516.1 367.7 2515.1 368 2514.1 368.1 2513.1 368.7 2512.1 368.9 2511.1 368.2 2510.1 368.9 2509.1 367.7 2508.1 368.2 2507.1 368.8 2506.1 368.3 2505.1 369.1 2504.1 368.6 2503.1 368.8 2502.1 368.5 2501.1 368.3 2500.1 368.6 2499.1 368.8 2498.1 369.3 2497.1 368.5 2496.1 368 2495.1 368.9 2494.1 368.9 2493.1 368 2492.1 369 2491.1 367.9 2490.1 368.4 2489.1 368.7 2488.1 367.7 2487.1 367.9 2486.1 368.8 2485.1 368.6 2484.1 368.3 2483.1 368.3 2482.1 368.3 2481.1 367.8 2480.1 368.4 2479.1 367.8 2478.1 368 2477.1 369.8 2476.1 368 2475.1 367.2 2474.1 367.2 2473.1 367.1 2472.1 368.1 2471.1 368.1 2470.1 368 2469.1 367.8 2468.1 368.1 2467.1 368.1 2466.1 368 2465.1 367.7 2464.1 367.4 2463.1 367.9 2462.1 367.2 2461.1 368.3 2460.1 368.3 2459.1 367 2458.1 367.2 2457.1 367.9 2456.1 368 2455.1 368.1 2454.1 368.2 2453.1 367 2452.1 367.3 2451.1 368.1 2450.1 367.7 2449.1 368 2448.1 367.4 2447.1 368.1 2446.1 367.3 2445.1 367.2 2444.1 368.2 2443.1 367.8 2442.1 367.4 2441.1 368.2 2440.1 367.8 2439.1 367.8 2438.1 367.6 2437.1 368.2 2436.1 366.8 2435.1 366.8 2434.1 368.8 2433.1 367.7 2432.1 367 2431.1 366.9 2430.1 367.2 2429.1 367.1 2428.1 367.7 2427.1 367.1 2426.1 368 2425.1 367.4 2424.1 367.7 2423.1 367.2 2422.1 369.8 2421.1 366.6 2420.1 366.9 2419.1 368.2 2418.1 366.9 2417.1 367.5 2416.1 367.4 2415.1 367 2414.1 367.7 2413.1 367.7 2412.1 367.8 2411.1 367.3 2410.1 367.7 2409.1 367.5 2408.1 367.3 2407.1 367 2406.1 369.7 2405.1 367.4 2404.1 367.2 2403.1 368.3 2402.1 367.1 2401.1 367.1 2400.1 368.3 2399.1 367 2398.1 367.4 2397.1 367.7 2396.1 367.5 2395.1 366.8 2394.1 367.1 2393.1 367.2 2392.1 368.2 2391.1 368.9 2390.1 367.7 2389.1 367.7 2388.1 367.6 2387.1 367.8 2386.1 368.3 2385.1 367.5 2384.1 367.3 2383.1 367.1 2382.1 367.6 2381.1 367 2380.1 367 2379.1 367.8 2378.1 367.4 2377.1 367.4 2376.1 367.4 2375.1 367.9 2374.1 367.8 2373.1 366.8 2372.1 367.1 2371.1 366.9 2370.1 367.1 2369.1 367.7 2368.1 368.5 2367.1 367.8 2366.1 367.5 2365.1 367.3 2364.1 367.2 2363.1 367.6 2362.1 367.6 2361.1 366.8 2360.1 367 2359.1 366.8 2358.1 367.6 2357.1 367.5 2356.1 369.9 2355.1 367.4 2354.1 366.8 2353.1 367.4 2352.1 367.8 2351.1 366.6 2350.1 367.3 2349.1 367.5 2348.1 368 2347.1 367.7 2346.1 367.9 2345.1 367.6 2344.1 366.9 2343.1 367.5 2342.1 367 2341.1 367.9 2340.1 368.1 2339.1 368.3 2338.1 368.6 2337.1 368.2 2336.1 367.8 2335.1 368.3 2334.1 368 2333.1 367.6 2332.1 367.8 2331.1 367.9 2330.1 368 2329.1 367.8 2328.1 369.6 2327.1 370.5 2326.1 369 2325.1 367.4 2324.1 368 2323.1 367 2322.1 368.1 2321.1 367.4 2320.1 369.7 2319.1 367.9 2318.1 369.8 2317.1 367.1 2316.1 367.5 2315.1 367.2 2314.1 368.3 2313.1 367.7 2312.1 367.9 2311.1 368.5 2310.1 367.7 2309.1 367.9 2308.1 369.6 2307.1 368.5 2306.1 368.1 2305.1 368.5 2304.1 370.1 2303.1 368.4 2302.1 367.8 2301.1 367.8 2300.1 367.4 2299.1 368.6 2298.1 367.3 2297.1 367.5 2296.1 368.3 2295.1 368 2294.1 367.3 2293.1 367.5 2292.1 368.2 2291.1 367.5 2290.1 367 2289.1 367.9 2288.1 367 2287.1 367.7 2286.1 368.3 2285.1 367.1 2284.1 366.9 2283.1 367.3 2282.1 367.6 2281.1 367.1 2280.1 367.8 2279.1 367.5 2278.1 367.9 2277.1 367.1 2276.1 368.2 2275.1 366.7 2274.1 368.1 2273.1 366.9 2272.1 367.7 2271.1 367 2270.1 367.8 2269.1 367.7 2268.1 367.7 2267.1 367.7 2266.1 368.2 2265.1 367.4 2264.1 367.6 2263.1 367.8 2262.1 368.6 2261.1 367.9 2260.1 368.1 2259.1 368.1 2258.1 367.9 2257.1 367.2 2256.1 367.6 2255.1 368.4 2254.1 369 2253.1 367.3 2252.1 368.3 2251.1 367.4 2250.1 367.6 2249.1 367.2 2248.1 368 2247.1 367.8 2246.1 368.1 2245.1 368.3 2244.1 368.2 2243.1 369.5 2242.1 368.3 2241.1 367.4 2240.1 367.9 2239.1 367.3 2238.1 368 2237.1 366.8 2236.1 366.9 2235.1 367.8 2234.1 368.2 2233.1 367.9 2232.1 367.2 2231.1 366.9 2230.1 367.6 2229.1 369.8 2228.1 368.2 2227.1 367.2 2226.1 367.6 2225.1 367.9 2224.1 368.1 2223.1 366.8 2222.1 367.8 2221.1 367.9 2220.1 367.3 2219.1 367.2 2218.1 366.6 2217.1 366.6 2216.1 367.2 2215.1 366.9 2214.1 367.6 2213.1 367.5 2212.1 367.8 2211.1 366.8 2210.1 367.7 2209.1 367.4 2208.1 367.8 2207.1 366.7 2206.1 367.4 2205.1 367.2 2204.1 367 2203.1 367.8 2202.1 367.1 2201.1 368 2200.1 367.6 2199.1 366.6 2198.1 367.9 2197.1 367.4 2196.1 367.1 2195.1 367.6 2194.1 366.7 2193.1 367.1 2192.1 367.9 2191.1 367.7 2190.1 368 2189.1 367 2188.1 370 2187.1 367.8 2186.1 367.3 2185.1 367.5 2184.1 367.8 2183.1 367.1 2182.1 368.1 2181.1 367.7 2180.1 367.3 2179.1 368.5 2178.1 370.8 2177.1 367.6 2176.1 368.6 2175.1 368.4 2174.1 368.2 2173.1 368.7 2172.1 368.1 2171.1 368 2170.1 367.7 2169.1 368.4 2168.1 369.4 2167.1 368.1 2166.1 368.4 2165.1 367.7 2164.1 367.4 2163.1 367.5 2162.1 367.4 2161.1 368.6 2160.1 368 2159.1 367.6 2158.1 368.3 2157.1 367 2156.1 367.9 2155.1 367.5 2154.1 368.4 2153.1 367.8 2152.1 368.3 2151.1 367.5 2150.1 368 2149.1 367.2 2148.1 367.4 2147.1 367.8 2146.1 367.4 2145.1 367.7 2144.1 367.3 2143.1 368.3 2142.1 367.2 2141.1 368.1 2140.1 367.5 2139.1 368.3 2138.1 367.4 2137.1 367.8 2136.1 367.9 2135.1 367.7 2134.1 367.4 2133.1 368.5 2132.1 368.4 2131.1 368 2130.1 367.5 2129.1 368.4 2128.1 367.5 2127.1 368.6 2126.1 368.4 2125.1 368.6 2124.1 367.9 2123.1 367.2 2122.1 368.1 2121.1 367.2 2120.1 367.8 2119.1 368.1 2118.1 367.9 2117.1 367.6 2116.1 368.1 2115.1 368 2114.1 367.9 2113.1 367 2112.1 367.2 2111.1 367 2110.1 367.3 2109.1 367.3 2108.1 367.4 2107.1 368.3 2106.1 367.7 2105.1 366.9 2104.1 368.1 2103.1 368.1 2102.1 368.3 2101.1 368.1 2100.1 367.3 2099.1 367.4 2098.1 368.2 2097.1 368.4 2096.1 368.4 2095.1 368.1 2094.1 367.8 2093.1 367.4 2092.1 367.8 2091.1 367.5 2090.1 367.6 2089.1 368.4 2088.1 368.4 2087.1 369.9 2086.1 367.6 2085.1 368.5 2084.1 367.3 2083.1 369.8 2082.1 367.9 2081.1 367.2 2080.1 368.4 2079.1 370.4 2078.1 368.1 2077.1 367.2 2076.1 367.2 2075.1 368.5 2074.1 367.6 2073.1 367.7 2072.1 368.3 2071.1 367.6 2070.1 368.2 2069.1 368.2 2068.1 369.5 2067.1 367.6 2066.1 368.3 2065.1 367.6 2064.1 367.7 2063.1 367.9 2062.1 367.7 2061.1 366.9 2060.1 368 2059.1 367.8 2058.1 367.8 2057.1 367.3 2056.1 366.8 2055.1 368.2 2054.1 368 2053.1 367.6 2052.1 366.8 2051.1 367.5 2050.1 366.7 2049.1 367.4 2048.1 368 2047.1 367.9 2046.1 367 2045.1 366.9 2044.1 368 2043.1 367.4 2042.1 366.7 2041.1 368 2040.1 367.4 2039.1 368 2038.1 367.1 2037.1 367.2 2036.1 367.6 2035.1 367.3 2034.1 368.5 2033.1 367.9 2032.1 367.8 2031.1 367.9 2030.1 367.8 2029.1 367.6 2028.1 369 2027.1 367.5 2026.1 368.1 2025.1 367.8 2024.1 367.5 2023.1 366.8 2022.1 367 2021.1 367.7 2020.1 367.1 2019.1 367.8 2018.1 367.4 2017.1 367.7 2016.1 368.2 2015.1 367.7 2014.1 367.4 2013.1 367.8 2012.1 368.6 2011.1 367.5 2010.1 367.6Z" fill="#c850e6"/><path d="M2014.1 361.8L2014.8 354.9L2015.5 354.9L2016.1 361.8Z M2022.2 361.8L2023.3 354L2024 354L2025.1 361.8Z M2027.5 361.8L2028.7 353.7L2029.4 353.7L2030.5 361.8Z M2030.8 361.8L2031.9 355L2032.6 355L2033.7 361.8Z M2040.6 361.8L2041.8 355.4L2042.5 355.4L2043.6 361.8Z M2050.7 361.8L2051.8 351.9L2052.5 351.9L2053.4 361.8Z M2055 361.8L2055.6 355.9L2056.3 355.9L2056.8 361.8Z M2057.9 361.8L2059.1 352.7L2059.8 352.7L2060.8 361.8Z M2064 361.8L2064.8 352.1L2065.5 352.1L2066.3 361.8Z M2069.7 361.8L2070.5 352.4L2071.2 352.4L2072 361.8Z M2096.6 361.8L2097.6 355.4L2098.3 355.4L2099.2 361.8Z M2100.7 361.8L2101.8 355.5L2102.5 355.5L2103.5 361.8Z M2108.3 361.8L2108.9 352.3L2109.6 352.3L2110.2 361.8Z M2115.5 361.8L2116.2 352.6L2116.9 352.6L2117.4 361.8Z M2118.6 361.8L2119.7 355.5L2120.4 355.5L2121.3 361.8Z M2130.5 361.8L2131.6 352.5L2132.3 352.5L2133.3 361.8Z M2133.9 361.8L2134.6 354.4L2135.3 354.4L2135.9 361.8Z M2138.8 361.8L2139.7 353.8L2140.4 353.8L2141.2 361.8Z M2154.2 361.8L2155.3 353.3L2156 353.3L2157.1 361.8Z M2177.6 361.8L2178.4 355.4L2179.1 355.4L2179.8 361.8Z M2182.2 361.8L2182.9 352.8L2183.6 352.8L2184.2 361.8Z M2187.8 361.8L2188.6 352.3L2189.3 352.3L2189.9 361.8Z M2191.2 361.8L2191.9 353.6L2192.6 353.6L2193.1 361.8Z M2223.8 361.8L2224.5 355.1L2225.2 355.1L2225.8 361.8Z M2234 361.8L2234.8 353.7L2235.5 353.7L2236.2 361.8Z M2240.2 361.8L2241.2 355.8L2241.9 355.8L2242.8 361.8Z M2254.5 361.8L2255.7 355.1L2256.4 355.1L2257.4 361.8Z M2265.9 361.8L2266.7 353.4L2267.4 353.4L2268.2 361.8Z M2275.4 361.8L2276.1 352.6L2276.8 352.6L2277.5 361.8Z M2280.9 361.8L2282 352.8L2282.7 352.8L2283.8 361.8Z M2298.5 361.8L2299.2 355.7L2299.9 355.7L2300.5 361.8Z M2301.6 361.8L2302.6 352.2L2303.3 352.2L2304.2 361.8Z M2322.8 361.8L2323.8 355.4L2324.5 355.4L2325.4 361.8Z M2329.5 361.8L2330.4 352.5L2331.1 352.5L2331.8 361.8Z M2333.7 361.8L2334.7 355.8L2335.4 355.8L2336.2 361.8Z M2337.5 361.8L2338.6 352.4L2339.3 352.4L2340.3 361.8Z M2348.1 361.8L2348.8 354L2349.5 354L2350.1 361.8Z M2368.5 361.8L2369.2 355.6L2369.9 355.6L2370.5 361.8Z M2376.4 361.8L2377.2 355.3L2377.9 355.3L2378.6 361.8Z M2381.1 361.8L2381.9 354.5L2382.6 354.5L2383.2 361.8Z M2385.1 361.8L2385.8 352.6L2386.5 352.6L2387.1 361.8Z M2398.2 361.8L2398.9 353.3L2399.6 353.3L2400.2 361.8Z M2402.3 361.8L2403.1 352.3L2403.8 352.3L2404.5 361.8Z M2412.3 361.8L2413.4 352.9L2414.1 352.9L2415.1 361.8Z M2416.3 361.8L2417.1 353.5L2417.8 353.5L2418.5 361.8Z M2420.7 361.8L2421.7 352.9L2422.4 352.9L2423.2 361.8Z M2426.7 361.8L2427.5 352.5L2428.2 352.5L2428.9 361.8Z M2440.9 361.8L2441.8 354.5L2442.5 354.5L2443.3 361.8Z M2459.5 361.8L2460.1 354.2L2460.8 354.2L2461.4 361.8Z M2462.8 361.8L2463.9 355.7L2464.6 355.7L2465.7 361.8Z M2466.5 361.8L2467.2 355.4L2467.9 355.4L2468.5 361.8Z M2491.7 361.8L2492.6 354L2493.3 354L2494.1 361.8Z M2504.4 361.8L2505.2 355.3L2505.9 355.3L2506.5 361.8Z M2510.9 361.8L2512 352.5L2512.7 352.5L2513.8 361.8Z M2195.1 366.3L2195.7 378.8L2198.5 366.3Z M2247.3 366.3L2247.9 378.8L2250.7 366.3Z M2419.1 366.3L2419.7 378.8L2422.5 366.3Z" fill="#c850e6"/><rect x="2010.1" y="355.2" width="518.9000000000001" height="1.7" fill="#7c2a2e" opacity="0.9"/><g stroke="#787e8c" stroke-width="0.3"><text x="1994.1" y="296.6" text-anchor="end" letter-spacing="0.5">110</text><text x="1994.1" y="360.6" text-anchor="end" letter-spacing="0.5">100</text><text x="1994.1" y="424.6" text-anchor="end" letter-spacing="0.5">90</text><text x="1994.1" y="488.6" text-anchor="end" letter-spacing="0.5">80</text><text x="1994.1" y="552.6" text-anchor="end" letter-spacing="0.5">70</text><text x="2185.2" y="581.6" text-anchor="middle" letter-spacing="0.25">Jun 19</text><text x="2360.4" y="581.6" text-anchor="middle" letter-spacing="0.25">Jun 20</text></g></svg><div class="card" style="left:108px;top:639px;width:600.8px;height:455.5px"><div class="divider"></div></div><svg class="abs" style="left:653px;top:666.5px" width="28" height="28" viewBox="0 0 28 28"><circle cx="14" cy="14" r="12.1" fill="#4c5464"/><rect x="12.3" y="8" width="3.4" height="7.2" rx="0.6" fill="#1f2735"/><circle cx="14" cy="18.3" r="1.8" fill="#1f2735"/></svg><svg class="abs" style="left:108px;top:725px" width="600" height="369.5" viewBox="108 725 600 369.5" font-family="Liberation Sans, sans-serif" font-size="18.6" fill="#787e8c"><rect x="174.4" y="833.0" width="515.6" height="183.0" fill="#263649"/><rect x="174.4" y="822.8" width="515.6" height="1.7" fill="#822b2f"/><rect x="174.4" y="893.4" width="515.6" height="1.5" fill="#7d5129"/><path d="M174.4 830.7 175.4 831.4 176.4 831 177.4 830.6 178.4 831.1 179.4 831.4 180.4 830.6 181.4 831.2 182.4 831.4 183.4 831.4 184.4 830.8 185.4 831.2 186.4 831.6 187.4 831.4 188.4 830.8 189.4 830.9 190.4 831.3 191.4 830.8 192.4 830.8 193.4 831 194.4 831.5 195.4 831 196.4 831 197.4 830.7 198.4 831.2 199.4 831.1 200.4 830.9 201.4 831.4 202.4 831.2 203.4 831.4 204.4 831.5 205.4 831.3 206.4 831 207.4 831.1 208.4 831.2 209.4 830.7 210.4 831.2 211.4 830.6 212.4 830.9 213.4 830.6 214.4 831.2 215.4 830.5 216.4 831.2 217.4 830.5 218.4 830.8 219.4 830.7 220.4 830.7 221.4 830.8 222.4 830.6 223.4 830.7 224.4 830.7 225.4 831.2 226.4 830.9 227.4 831 228.4 831.2 229.4 830.7 230.4 830.7 231.4 831.1 232.4 831.1 233.4 830.8 234.4 831.1 235.4 831.5 236.4 831.2 237.4 831.3 238.4 830.7 239.4 831.4 240.4 831 241.4 831.3 242.4 830.8 243.4 830.9 244.4 830.9 245.4 831.6 246.4 830.7 247.4 831.5 248.4 831.4 249.4 830.9 250.4 830.8 251.4 830.9 252.4 831.3 253.4 830.7 254.4 830.8 255.4 831.5 256.4 830.8 257.4 831.1 258.4 830.7 259.4 830.7 260.4 831.3 261.4 831 262.4 831.3 263.4 830.9 264.4 830.8 265.4 831 266.4 831 267.4 831.1 268.4 831.2 269.4 830.6 270.4 828.6 271.4 831.1 272.4 830.5 273.4 830.9 274.4 830.2 275.4 830.4 276.4 830.5 277.4 830.1 278.4 830.8 279.4 830.2 280.4 830.6 281.4 830.4 282.4 830.1 283.4 830.6 284.4 830.3 285.4 831 286.4 830.2 287.4 830.2 288.4 830.4 289.4 830.2 290.4 830.3 291.4 831 292.4 830.3 293.4 830.7 294.4 830.7 295.4 831.1 296.4 830.7 297.4 831.1 298.4 831 299.4 830.6 300.4 829.4 301.4 830.6 302.4 830.5 303.4 830.5 304.4 830.7 305.4 831 306.4 831 307.4 830.7 308.4 830.9 309.4 831 310.4 830.4 311.4 830.4 312.4 831.1 313.4 830.6 314.4 830.4 315.4 831.1 316.4 830.8 317.4 830.7 318.4 830.6 319.4 830.8 320.4 830.2 321.4 831 322.4 830.3 323.4 830.3 324.4 830.8 325.4 830.7 326.4 830.4 327.4 830.4 328.4 830.3 329.4 830.3 330.4 830.7 331.4 830.4 332.4 830.8 333.4 831 334.4 830.4 335.4 830.7 336.4 830.9 337.4 830.4 338.4 830.4 339.4 830.4 340.4 830.3 341.4 830.2 342.4 830.6 343.4 830.3 344.4 830.7 345.4 830.3 346.4 830.6 347.4 830.5 348.4 830.3 349.4 830.5 350.4 830.3 351.4 830.2 352.4 830.5 353.4 830.1 354.4 830.4 355.4 830 356.4 830.5 357.4 830.8 358.4 830.4 359.4 830.4 360.4 830.7 361.4 830.1 362.4 830.8 363.4 830.3 364.4 830.5 365.4 830.4 366.4 831 367.4 830.2 368.4 830.5 369.4 830.9 370.4 830.2 371.4 830.6 372.4 831 373.4 831 374.4 830.4 375.4 830.8 376.4 830.6 377.4 830.9 378.4 830.4 379.4 831.2 380.4 830.5 381.4 831.3 382.4 830.5 383.4 831.1 384.4 830.5 385.4 831.1 386.4 830.9 387.4 831 388.4 830.6 389.4 831.2 390.4 831.2 391.4 830.9 392.4 831.3 393.4 831.1 394.4 830.9 395.4 831.1 396.4 830.7 397.4 830.8 398.4 830.6 399.4 830.9 400.4 830.7 401.4 830.8 402.4 830.9 403.4 830.9 404.4 830.6 405.4 831.1 406.4 831.4 407.4 830.9 408.4 830.9 409.4 830.6 410.4 831.2 411.4 830.9 412.4 831 413.4 831.1 414.4 831.3 415.4 831.2 416.4 831.3 417.4 831 418.4 831 419.4 831.3 420.4 831.4 421.4 831.4 422.4 831.2 423.4 830.7 424.4 831.1 425.4 831.2 426.4 831.3 427.4 831.1 428.4 831 429.4 831 430.4 831.2 431.4 830.7 432.4 831.4 433.4 830.8 434.4 831.3 435.4 831.4 436.4 830.5 437.4 831 438.4 830.6 439.4 830.7 440.4 830.5 441.4 831 442.4 831.2 443.4 830.8 444.4 831.2 445.4 830.4 446.4 830.5 447.4 830.5 448.4 830.7 449.4 830.8 450.4 830.6 451.4 830.4 452.4 830.8 453.4 830.9 454.4 830.7 455.4 830.8 456.4 830.9 457.4 830.6 458.4 830.1 459.4 830.2 460.4 830.1 461.4 830.5 462.4 828.5 463.4 830.3 464.4 830.7 465.4 830.8 466.4 830.9 467.4 830.7 468.4 830.6 469.4 830.4 470.4 830.8 471.4 830.7 472.4 830.9 473.4 831 474.4 830.4 475.4 830.7 476.4 830.4 477.4 830.4 478.4 830.8 479.4 830.8 480.4 830.8 481.4 830.8 482.4 830.9 483.4 830.7 484.4 830.8 485.4 830.5 486.4 830.9 487.4 831.2 488.4 831.1 489.4 831.1 490.4 831 491.4 830.4 492.4 830.3 493.4 830.5 494.4 830.4 495.4 831 496.4 830.8 497.4 830.5 498.4 830.7 499.4 830.6 500.4 830.3 501.4 830.4 502.4 830.7 503.4 830.9 504.4 830.5 505.4 830.7 506.4 830.8 507.4 830.6 508.4 830.6 509.4 830.8 510.4 830.4 511.4 830.9 512.4 831.2 513.4 830.5 514.4 831.3 515.4 828.9 516.4 830.9 517.4 830.7 518.4 831 519.4 831.3 520.4 830.7 521.4 830.9 522.4 831 523.4 831.2 524.4 831.3 525.4 830.7 526.4 831.4 527.4 830.6 528.4 830.7 529.4 830.7 530.4 830.7 531.4 831.1 532.4 831.1 533.4 831.4 534.4 831.4 535.4 830.9 536.4 831.2 537.4 831 538.4 831 539.4 831 540.4 831.1 541.4 830.8 542.4 830.9 543.4 831.1 544.4 830.5 545.4 830.3 546.4 831 547.4 830.5 548.4 830.3 549.4 830.2 550.4 830.7 551.4 831 552.4 830.8 553.4 829.3 554.4 830.9 555.4 830.3 556.4 830.7 557.4 831.2 558.4 830.6 559.4 830.6 560.4 830.5 561.4 830.8 562.4 830.7 563.4 830.9 564.4 831 565.4 831.3 566.4 830.7 567.4 831 568.4 831.1 569.4 830.6 570.4 830.7 571.4 831.4 572.4 831.4 573.4 830.6 574.4 830.8 575.4 830.8 576.4 831.2 577.4 830.6 578.4 831 579.4 831 580.4 831.1 581.4 831.1 582.4 830.8 583.4 831.1 584.4 831.1 585.4 830.7 586.4 831.2 587.4 830.6 588.4 831.3 589.4 831.4 590.4 830.9 591.4 830.6 592.4 831.1 593.4 830.9 594.4 830.7 595.4 831.2 596.4 831.3 597.4 830.9 598.4 831.3 599.4 830.8 600.4 830.9 601.4 830.6 602.4 831.1 603.4 830.6 604.4 830.5 605.4 830.5 606.4 831.1 607.4 831.1 608.4 830.9 609.4 831.1 610.4 831 611.4 830.8 612.4 828.3 613.4 830.3 614.4 831 615.4 830.5 616.4 830.6 617.4 830.6 618.4 831.3 619.4 830.7 620.4 831.3 621.4 830.7 622.4 830.8 623.4 830.6 624.4 830.9 625.4 831.4 626.4 831.2 627.4 830.8 628.4 831 629.4 830.9 630.4 830.6 631.4 830.7 632.4 831.2 633.4 830.8 634.4 830.3 635.4 830.5 636.4 830.7 637.4 830.8 638.4 831 639.4 831 640.4 830.1 641.4 831 642.4 830.6 643.4 830.6 644.4 830.1 645.4 830.4 646.4 830.8 647.4 830.6 648.4 830.6 649.4 830.3 650.4 830.1 651.4 830.3 652.4 830.3 653.4 830.1 654.4 830.6 655.4 830.4 656.4 830.8 657.4 830.6 658.4 830.7 659.4 830.4 660.4 830.8 661.4 830.7 662.4 830.5 663.4 830.8 664.4 830.9 665.4 830.7 666.4 830.8 667.4 830.9 668.4 830.7 669.4 830.8 670.4 830.6 671.4 830.8 672.4 830.6 673.4 830.9 674.4 831.2 675.4 831.1 676.4 831.1 677.4 830.6 678.4 831.2 679.4 830.7 680.4 830.8 681.4 830.7 682.4 830.7 683.4 831 684.4 831 685.4 831.1 686.4 830.7 687.4 831.1 688.4 830.8 689.4 830.7 L689.4 835.7 688.4 835.3 687.4 835.6 686.4 834.9 685.4 835.4 684.4 837.6 683.4 835.6 682.4 834.7 681.4 835.5 680.4 835.6 679.4 835.3 678.4 835.2 677.4 834.9 676.4 835.1 675.4 835.4 674.4 834.7 673.4 835.4 672.4 834.9 671.4 835.4 670.4 835 669.4 834.8 668.4 834.9 667.4 836.1 666.4 834.7 665.4 835.3 664.4 835.4 663.4 835.1 662.4 835.3 661.4 835.1 660.4 834.4 659.4 834.5 658.4 834.7 657.4 835.1 656.4 834.5 655.4 834.4 654.4 835 653.4 834.9 652.4 834.4 651.4 834.8 650.4 834.7 649.4 834.5 648.4 834.5 647.4 834.4 646.4 835 645.4 835 644.4 835.2 643.4 834.8 642.4 835 641.4 834.9 640.4 834.7 639.4 835.2 638.4 834.9 637.4 834.7 636.4 834.5 635.4 835.3 634.4 834.9 633.4 834.7 632.4 835.5 631.4 835.4 630.4 835.3 629.4 835 628.4 835.4 627.4 835.8 626.4 834.9 625.4 835.4 624.4 835.2 623.4 834.9 622.4 835.1 621.4 835 620.4 835 619.4 835.3 618.4 834.9 617.4 835.5 616.4 835 615.4 835.2 614.4 834.7 613.4 834.8 612.4 835.6 611.4 834.6 610.4 835.3 609.4 834.8 608.4 835.5 607.4 834.6 606.4 834.8 605.4 835.4 604.4 835.6 603.4 835.4 602.4 834.8 601.4 835.1 600.4 835.4 599.4 835.6 598.4 835.4 597.4 835.5 596.4 835 595.4 834.9 594.4 837.2 593.4 835.2 592.4 835.5 591.4 835.3 590.4 834.9 589.4 835.6 588.4 835.4 587.4 835.3 586.4 835.5 585.4 835.8 584.4 835 583.4 835.7 582.4 835.7 581.4 835 580.4 835.5 579.4 835.7 578.4 835.7 577.4 835.1 576.4 835.8 575.4 835.8 574.4 835.5 573.4 835.1 572.4 835.6 571.4 835 570.4 835.4 569.4 836.8 568.4 834.9 567.4 837.2 566.4 835.6 565.4 835.5 564.4 835.3 563.4 835.5 562.4 835.2 561.4 834.9 560.4 835.1 559.4 835.6 558.4 834.7 557.4 834.9 556.4 835 555.4 835.2 554.4 835.1 553.4 836.6 552.4 835.4 551.4 835.3 550.4 835.3 549.4 834.7 548.4 835.1 547.4 834.6 546.4 835.5 545.4 835.3 544.4 834.6 543.4 835.6 542.4 835.5 541.4 835.2 540.4 835.6 539.4 835.3 538.4 835.1 537.4 835.3 536.4 835.3 535.4 835.6 534.4 835.8 533.4 835.1 532.4 835.5 531.4 835.8 530.4 835.6 529.4 834.9 528.4 835.3 527.4 835.6 526.4 835 525.4 835.1 524.4 835.2 523.4 835.4 522.4 835 521.4 835 520.4 835.8 519.4 835.1 518.4 835.6 517.4 835.3 516.4 835.4 515.4 835.1 514.4 834.9 513.4 835 512.4 835.4 511.4 835.1 510.4 835.2 509.4 835.1 508.4 835 507.4 835.2 506.4 835.3 505.4 834.9 504.4 834.9 503.4 835.2 502.4 836 501.4 834.6 500.4 835.2 499.4 835.4 498.4 836.2 497.4 834.7 496.4 834.8 495.4 835.1 494.4 835.4 493.4 835.2 492.4 835.3 491.4 835.1 490.4 835 489.4 835.1 488.4 835.5 487.4 835.5 486.4 834.7 485.4 835.1 484.4 835.3 483.4 834.6 482.4 834.7 481.4 834.7 480.4 834.5 479.4 834.9 478.4 835.2 477.4 834.8 476.4 835.1 475.4 835.3 474.4 834.5 473.4 834.7 472.4 835.3 471.4 835.2 470.4 835.2 469.4 834.7 468.4 834.5 467.4 835.2 466.4 834.8 465.4 835.1 464.4 836.7 463.4 834.5 462.4 835 461.4 835.3 460.4 835 459.4 834.4 458.4 835.3 457.4 834.8 456.4 835.1 455.4 834.9 454.4 835.2 453.4 835.4 452.4 834.6 451.4 834.9 450.4 834.9 449.4 835.5 448.4 835.1 447.4 834.7 446.4 835.4 445.4 835 444.4 835.3 443.4 835.6 442.4 834.8 441.4 835.3 440.4 835.1 439.4 835.1 438.4 834.8 437.4 835.7 436.4 835.1 435.4 835.3 434.4 835.3 433.4 837 432.4 834.9 431.4 835.6 430.4 835.3 429.4 835 428.4 835 427.4 835.4 426.4 835.4 425.4 835.5 424.4 835.6 423.4 835.6 422.4 835.1 421.4 835.7 420.4 834.9 419.4 835 418.4 835.6 417.4 835.2 416.4 834.9 415.4 835 414.4 835.1 413.4 834.9 412.4 835.4 411.4 835.1 410.4 834.9 409.4 835.8 408.4 835.5 407.4 835.6 406.4 835.4 405.4 834.9 404.4 835.4 403.4 834.9 402.4 835 401.4 835.3 400.4 835.3 399.4 835.7 398.4 835.7 397.4 835.6 396.4 835.2 395.4 835.3 394.4 834.9 393.4 834.8 392.4 835.4 391.4 835.5 390.4 835 389.4 835.2 388.4 835.1 387.4 834.9 386.4 835.2 385.4 834.8 384.4 835.5 383.4 834.8 382.4 835.5 381.4 836.7 380.4 835.5 379.4 834.7 378.4 835.6 377.4 834.8 376.4 835.1 375.4 835.3 374.4 835.1 373.4 835.4 372.4 835 371.4 835 370.4 834.6 369.4 835.1 368.4 835.4 367.4 835 366.4 834.9 365.4 835.3 364.4 835.3 363.4 835 362.4 835.1 361.4 835.1 360.4 834.3 359.4 835 358.4 834.6 357.4 834.3 356.4 835 355.4 834.8 354.4 834.5 353.4 835.2 352.4 835.2 351.4 834.6 350.4 834.5 349.4 834.3 348.4 835.1 347.4 834.8 346.4 835.1 345.4 835.3 344.4 834.8 343.4 835.1 342.4 834.7 341.4 834.9 340.4 835.4 339.4 834.8 338.4 835.1 337.4 834.9 336.4 835.1 335.4 835.1 334.4 835.2 333.4 834.6 332.4 835.3 331.4 835.4 330.4 835.2 329.4 835 328.4 834.6 327.4 835.2 326.4 834.8 325.4 834.4 324.4 837 323.4 834.7 322.4 834.6 321.4 834.6 320.4 835 319.4 835.3 318.4 834.5 317.4 835.1 316.4 834.7 315.4 834.8 314.4 834.8 313.4 834.7 312.4 835.3 311.4 835.3 310.4 835.1 309.4 835.5 308.4 834.7 307.4 835 306.4 834.6 305.4 834.7 304.4 834.6 303.4 834.9 302.4 834.8 301.4 835 300.4 835.2 299.4 835.2 298.4 834.7 297.4 835.2 296.4 835.3 295.4 835.2 294.4 835 293.4 834.9 292.4 835.3 291.4 835.1 290.4 834.7 289.4 834.7 288.4 834.9 287.4 835.2 286.4 835.2 285.4 834.6 284.4 835.3 283.4 834.5 282.4 834.4 281.4 835.1 280.4 835.3 279.4 834.5 278.4 835.1 277.4 835.2 276.4 835.1 275.4 835 274.4 834.8 273.4 834.5 272.4 834.7 271.4 835.4 270.4 834.8 269.4 837.3 268.4 834.8 267.4 834.8 266.4 835.1 265.4 835.1 264.4 834.8 263.4 835 262.4 835.4 261.4 835.6 260.4 835.4 259.4 834.9 258.4 835 257.4 835.1 256.4 835.6 255.4 835.1 254.4 835.3 253.4 835.3 252.4 835.7 251.4 835.8 250.4 835.3 249.4 835.3 248.4 836 247.4 835.3 246.4 835.2 245.4 835.1 244.4 835.8 243.4 835.9 242.4 835.9 241.4 835.8 240.4 835.5 239.4 835.6 238.4 835.7 237.4 835.2 236.4 835.4 235.4 835.7 234.4 835.5 233.4 835.7 232.4 835.9 231.4 835.6 230.4 835.6 229.4 835.2 228.4 834.9 227.4 835.5 226.4 835.7 225.4 835.3 224.4 835.7 223.4 834.9 222.4 835.3 221.4 835.2 220.4 835.7 219.4 835 218.4 835.6 217.4 835.2 216.4 835.1 215.4 835.4 214.4 835.6 213.4 835.7 212.4 835.7 211.4 835 210.4 835.3 209.4 834.9 208.4 835.3 207.4 835.3 206.4 835.8 205.4 835.2 204.4 835 203.4 835.7 202.4 835.7 201.4 835.3 200.4 835 199.4 835.1 198.4 835.5 197.4 835.4 196.4 835.2 195.4 835.1 194.4 835.2 193.4 835.7 192.4 835.2 191.4 835.1 190.4 835.7 189.4 835.2 188.4 835.5 187.4 836 186.4 835.5 185.4 835.1 184.4 835.4 183.4 835.6 182.4 835 181.4 835 180.4 835.2 179.4 835.8 178.4 835.7 177.4 835.7 176.4 835.7 175.4 834.9 174.4 835.4Z" fill="#5db2f8"/><g stroke="#787e8c" stroke-width="0.3"><text x="158.4" y="764.6" text-anchor="end" letter-spacing="0.5">240</text><text x="158.4" y="828.6" text-anchor="end" letter-spacing="0.5">220</text><text x="158.4" y="892.6" text-anchor="end" letter-spacing="0.5">200</text><text x="158.4" y="956.6" text-anchor="end" letter-spacing="0.5">180</text><text x="158.4" y="1020.6" text-anchor="end" letter-spacing="0.5">160</text><text x="348.4" y="1049.6" text-anchor="middle" letter-spacing="0.25">Jun 19</text><text x="522.4" y="1049.6" text-anchor="middle" letter-spacing="0.25">Jun 20</text></g></svg><div class="card" style="left:721px;top:639px;width:600.8px;height:455.5px"><div class="divider"></div></div><svg class="abs" style="left:1266px;top:666.5px" width="28" height="28" viewBox="0 0 28 28"><circle cx="14" cy="14" r="12.1" fill="#4c5464"/><rect x="12.3" y="8" width="3.4" height="7.2" rx="0.6" fill="#1f2735"/><circle cx="14" cy="18.3" r="1.8" fill="#1f2735"/></svg><svg class="abs" style="left:721px;top:725px" width="600" height="369.5" viewBox="721 725 600 369.5" font-family="Liberation Sans, sans-serif" font-size="18.6" fill="#787e8c"><path d="M779.9 1016V942.4H781.1V929.3H782.9V910.9H785.9V961.7H786.9V944.2H789V887.8H792.2V949.5H793.4V962.6H795.2V949.5H798.1V905.6H800.8V890.2H803.9V931.1H805.7V895.5H808.3V919.3H809.7V969.6H813.9V1004.6H815V954.7H817.1V913.5H820.6V941.6H822.7V938.9H826.2V956.5H827.6V915.8H830.7V924H831.9V946.8H833.7V984.5H837.2V974H838.4V934H841.6V956.5H844.2V926.3H847.2V910.9H848.2V859.6H851.7V875.3H854.7V903H857V851.7H860.9V884.6H862.3V872.4H865.2V875.3H868.2V931.9H870.5V942.4H874V949.1H878.4V916.2H881.5V972.2H883.3V997.6H884.7V905.6H887.5V921.4H889.2V948.6H890.6V914.4H892.4V910.9H895V924H898V900.7H901.2V905.6H902.9V928.4H904.3V898.3H906.8V914.4H909V974.9H910.8V931.6H912.9V865H916.1V923.2H917.8V867.6H920.4V895.1H923.1V870.1H926V910.9H929.2V977.5H934.1V926.7H937.1V964.3H939.7V954.7H941.5V942.4H944.6V905.6H947.6V948.6H949.9V890.4H953.4V967H958.1V920.5H959V908.8H962.1V925.8H963.9V916.2H966.9V913.9H969.8V919.3H973V936.3H975.6V948.6H977.4V916.5H982.6V925.8H984.4V919.3H987.9V931.6H991.4V924.6H994.9V949.5H996.7V1009H998.1V900.7H1001V931.6H1002.4V988.9H1004.2V957.3H1007.2V989.8H1008.9V924H1010.7V921.4H1013V936.3H1014.7V931.6H1016.5V919.3H1019.1V960H1021.2V885.5H1025.6V941.6H1028.5V910.9H1029.4V856.9H1036.1V928.4H1037.5V916.2H1039.9V923.2H1041.7V914.1H1044.9V988H1046.7V977.5H1049.1V949.5H1051.9V959.1H1053.7V919.1H1056.6V977.5H1059.6V959.6H1062.4V944.2H1064.2V936.8H1067.2V959.1H1068.6V914.1H1071.5V962.6H1072.9V903.5H1075.9V924H1077.7V944.2H1080.7V977.5H1082.1V944.2H1083.5V813.3H1086.4V959.6H1088.2V934H1091.2V980.1H1092.6V952.1H1095.2V974.9H1096.9V919.1H1099.9V949.5H1101.7V942.1H1104.5V895.7H1107.5V928.4H1110.4V916.2H1113.2V952.1H1115.3V959.6H1118.5V929.3H1122V949.5H1124.1V926.7H1129.7V949.5H1131.5V921.4H1134.3V916.2H1137.2V959.6H1140.2V985.4H1142V972.2H1143.7V952.1H1144.8V942.1H1147.8V949.5H1150.7V946.8H1153.5V954.4H1155.3V974.9H1157V949.8H1160V946.8H1162.7V949.8H1164.4V995H1166.2V964.7H1168.8V954.4H1171.1V942.1H1174.6V952.1H1178.1V967H1179.5V931.9H1182.3V993.3H1184V939.3H1186.3V931.6H1189.3V919.1H1192.1V908.8H1195.6V924H1198.6V959.6H1200.3V952.1H1203V926.7H1204.4V919.1H1207.9V924H1209.1V914.1H1211.7V910.9H1212.6V839.4H1215.2V895.7H1216.6V916.2H1218.4V905.6H1220.8V929.3H1223.1V931.6H1224V888.1H1226.8V949.5H1229.2V914.1H1232.7V949.5H1234.5V926.7H1237.1V949.5H1240.1V967.3H1241.9V954.7H1245V957.3H1249.9V977.5H1252V929.3H1254.6V931.6H1258.2V957.3H1260.4V949.5H1262.9V959.6H1264.6V900.7H1267.4V957.3H1269.2V954.7H1271.6V969.6H1273.4V936.8H1276.2V942.1H1279.2V964.7H1282.2V1005.5H1283.9V980.1H1286.7V974.9H1288.5V875.3H1291.1V972.2H1292.8V914.1H1295.8V941.6H1297.9V914.1H1302V949.5H1303.2V962.6H1304.1V1016Z" fill="#c850e6" stroke="#c850e6" stroke-width="0.6" stroke-linejoin="miter"/><path d="M973 994.5V1008 M875.5 973.9V1008 M1187.7 973.9V1008 M1044.3 987.1V1008 M1023.7 981.2V1008 M1194.1 977V1008 M1102 990.4V1008 M893.2 974.5V1008 M1077.1 972.1V1008 M794.1 954V1008 M1210.4 969.2V1008 M1136.2 969.5V1008" stroke="#a648c3" stroke-width="0.7" fill="none"/><rect x="780.1" y="1013.6" width="522.9" height="2.4" fill="#b24fb0"/><g stroke="#787e8c" stroke-width="0.3"><text x="764.1" y="764.6" text-anchor="end" letter-spacing="0.5">1.0</text><text x="764.1" y="892.6" text-anchor="end" letter-spacing="0.5">0.5</text><text x="764.1" y="1020.6" text-anchor="end" letter-spacing="0.5">0</text><text x="956.6" y="1049.6" text-anchor="middle" letter-spacing="0.25">Jun 19</text><text x="1133.1" y="1049.6" text-anchor="middle" letter-spacing="0.25">Jun 20</text></g></svg><div class="card" style="left:1334px;top:639px;width:600.8px;height:455.5px"><div class="divider"></div></div><svg class="abs" style="left:1879px;top:666.5px" width="28" height="28" viewBox="0 0 28 28"><circle cx="14" cy="14" r="12.1" fill="#4c5464"/><rect x="12.3" y="8" width="3.4" height="7.2" rx="0.6" fill="#1f2735"/><circle cx="14" cy="18.3" r="1.8" fill="#1f2735"/></svg><svg class="abs" style="left:1334px;top:725px" width="600" height="369.5" viewBox="1334 725 600 369.5" font-family="Liberation Sans, sans-serif" font-size="18.6" fill="#787e8c"><path d="M1400.7 1016V936.1H1401.9V921.8H1403.6V901.9H1406.6V957.1H1407.6V938H1409.7V876.7H1412.8V943.7H1414V958H1415.7V943.7H1418.6V896.2H1421.2V879.4H1424.3V923.7H1426V885.1H1428.6V911H1430V965.6H1434.1V1003.7H1435.2V949.4H1437.2V904.7H1440.7V935.2H1442.7V932.3H1446.2V951.3H1447.6V907.2H1450.7V916.1H1451.9V940.9H1453.6V981.8H1457V970.4H1458.2V927H1461.3V951.3H1463.9V918.6H1466.8V901.9H1467.9V846.1H1471.3V863.2H1474.3V893.3H1476.5V837.5H1480.3V873.3H1481.7V860H1484.6V863.2H1487.5V924.7H1489.8V936.1H1493.2V943.3H1497.5V907.6H1500.6V968.5H1502.3V996.1H1503.7V896.2H1506.5V913.3H1508.2V942.8H1509.6V905.7H1511.3V901.9H1513.9V916.1H1516.8V890.8H1519.9V896.2H1521.6V920.9H1523V888.2H1525.4V905.7H1527.7V971.3H1529.4V924.3H1531.4V852H1534.5V915.2H1536.3V854.9H1538.9V884.7H1541.4V857.5H1544.4V901.9H1547.5V974.2H1552.3V919H1555.2V959.9H1557.8V949.4H1559.5V936.1H1562.6V896.2H1565.6V942.8H1567.8V879.6H1571.2V962.8H1575.9V912.3H1576.8V899.6H1579.9V918H1581.6V907.6H1584.5V905.1H1587.4V911H1590.5V929.5H1593.1V942.8H1594.8V908H1600V918H1601.7V911H1605.2V924.3H1608.6V916.7H1612.1V943.7H1613.8V1008.4H1615.2V890.8H1618.1V924.3H1619.5V986.5H1621.2V952.3H1624.1V987.5H1625.8V916.1H1627.6V913.3H1629.8V929.5H1631.5V924.3H1633.3V911H1635.8V955.1H1637.9V874.3H1642.2V935.2H1645.1V901.9H1646V843.3H1652.5V920.9H1653.9V907.6H1656.3V915.2H1658.1V905.3H1661.2V985.6H1662.9V974.2H1665.4V943.7H1668.1V954.2H1669.8V910.8H1672.8V974.2H1675.7V954.8H1678.4V938H1680.2V930H1683.1V954.2H1684.5V905.3H1687.4V958H1688.8V893.9H1691.7V916.1H1693.4V938H1696.4V974.2H1697.7V938H1699.1V795.9H1702V954.8H1703.8V927H1706.7V977H1708.1V946.6H1710.7V971.3H1712.4V910.8H1715.3V943.7H1717V935.7H1719.8V885.3H1722.7V920.9H1725.6V907.6H1728.4V946.6H1730.5V954.8H1733.6V921.8H1737V943.7H1739.1V919H1744.6V943.7H1746.3V913.3H1749.1V907.6H1752V954.8H1754.9V982.7H1756.7V968.5H1758.4V946.6H1759.4V935.7H1762.3V943.7H1765.3V940.9H1768V949.1H1769.7V971.3H1771.5V944.1H1774.4V940.9H1777V944.1H1778.7V993.2H1780.4V960.3H1783V949.1H1785.3V935.7H1788.7V946.6H1792.1V962.8H1793.5V924.7H1796.3V991.3H1798V932.7H1800.2V924.3H1803.2V910.8H1805.9V899.6H1809.4V916.1H1812.3V954.8H1814V946.6H1816.6V919H1818V910.8H1821.4V916.1H1822.6V905.3H1825.2V901.9H1826.1V824.2H1828.7V885.3H1830V907.6H1831.8V896.2H1834.2V921.8H1836.4V924.3H1837.3V877.1H1840V943.7H1842.4V905.3H1845.9V943.7H1847.6V919H1850.2V943.7H1853.1V963.1H1854.8V949.4H1857.9V952.3H1862.8V974.2H1864.8V921.8H1867.4V924.3H1870.9V952.3H1873.1V943.7H1875.5V954.8H1877.2V890.8H1880V952.3H1881.7V949.4H1884.1V965.6H1885.9V930H1888.6V935.7H1891.5V960.3H1894.5V1004.6H1896.2V977H1898.9V971.3H1900.7V863.2H1903.3V968.5H1905V905.3H1907.9V935.2H1910V905.3H1913.9V943.7H1915.1V958H1916V1016Z" fill="#94cb43" stroke="#94cb43" stroke-width="0.6" stroke-linejoin="miter"/><path d="M1576.4 988.8V1008 M1510.3 994.5V1008 M1534.8 953.5V1008 M1675.2 986.1V1008 M1482.3 975.2V1008 M1607.4 950V1008 M1646.7 951.4V1008 M1890.1 971.8V1008 M1587.6 987.7V1008 M1715.8 951.8V1008 M1688.9 989.7V1008 M1728.3 968.9V1008" stroke="#7daa40" stroke-width="0.7" fill="none"/><rect x="1400.7" y="1013.6" width="515.3" height="2.4" fill="#a3b53c"/><g stroke="#787e8c" stroke-width="0.3"><text x="1384.7" y="764.6" text-anchor="end" letter-spacing="0.5">200</text><text x="1384.7" y="828.6" text-anchor="end" letter-spacing="0.5">150</text><text x="1384.7" y="892.6" text-anchor="end" letter-spacing="0.5">100</text><text x="1384.7" y="956.6" text-anchor="end" letter-spacing="0.5">50</text><text x="1384.7" y="1020.6" text-anchor="end" letter-spacing="0.5">0</text><text x="1574.6" y="1049.6" text-anchor="middle" letter-spacing="0.25">Jun 19</text><text x="1748.5" y="1049.6" text-anchor="middle" letter-spacing="0.25">Jun 20</text></g></svg><div class="card" style="left:1947px;top:639px;width:600.8px;height:455.5px"><div class="divider"></div></div><svg class="abs" style="left:2492px;top:666.5px" width="28" height="28" viewBox="0 0 28 28"><circle cx="14" cy="14" r="12.1" fill="#4c5464"/><rect x="12.3" y="8" width="3.4" height="7.2" rx="0.6" fill="#1f2735"/><circle cx="14" cy="18.3" r="1.8" fill="#1f2735"/></svg><svg class="abs" style="left:1947px;top:725px" width="600" height="369.5" viewBox="1947 725 600 369.5" font-family="Liberation Sans, sans-serif" font-size="18.6" fill="#787e8c"><path d="M2003.3 870 2004.3 871.6 2005.3 867.2 2006.3 872.3 2007.3 872 2008.3 871.3 2009.3 872.3 2010.3 872.5 2011.3 867.5 2012.3 872.4 2013.3 871.8 2014.3 871 2015.3 871.9 2016.3 871.2 2017.3 872 2018.3 871.4 2019.3 868.8 2020.3 865.2 2021.3 870.7 2022.3 870.6 2023.3 871.5 2024.3 871.5 2025.3 872.5 2026.3 872 2027.3 871.4 2028.3 871.4 2029.3 871.4 2030.3 870.9 2031.3 871.3 2032.3 871.8 2033.3 871.4 2034.3 871.7 2035.3 872.8 2036.3 872.1 2037.3 872 2038.3 873.1 2039.3 871.7 2040.3 872.6 2041.3 871.2 2042.3 871.8 2043.3 871.5 2044.3 872.9 2045.3 872.4 2046.3 872.8 2047.3 873 2048.3 873.1 2049.3 872.2 2050.3 872.8 2051.3 872.6 2052.3 873.1 2053.3 872.4 2054.3 873.1 2055.3 872.8 2056.3 872.6 2057.3 873.9 2058.3 874.1 2059.3 873.9 2060.3 872.8 2061.3 872.9 2062.3 873.6 2063.3 873.3 2064.3 873.4 2065.3 873.9 2066.3 870.7 2067.3 873 2068.3 874.1 2069.3 873.2 2070.3 874.1 2071.3 873.5 2072.3 873.7 2073.3 874.5 2074.3 872.4 2075.3 873 2076.3 873.4 2077.3 873 2078.3 873.3 2079.3 872.9 2080.3 873.9 2081.3 870.9 2082.3 873.3 2083.3 873.7 2084.3 873 2085.3 874.2 2086.3 874.6 2087.3 873.7 2088.3 874.1 2089.3 874.9 2090.3 874.3 2091.3 873.8 2092.3 874.2 2093.3 873.5 2094.3 873.6 2095.3 871.4 2096.3 871.3 2097.3 871.5 2098.3 871.7 2099.3 870.7 2100.3 870.5 2101.3 866 2102.3 871.2 2103.3 872.1 2104.3 869.4 2105.3 871.9 2106.3 871.2 2107.3 872.5 2108.3 872 2109.3 873.4 2110.3 873.9 2111.3 873.2 2112.3 873 2113.3 868.5 2114.3 872.6 2115.3 873.7 2116.3 872.4 2117.3 872.6 2118.3 872.2 2119.3 869.8 2120.3 872.7 2121.3 873.5 2122.3 873 2123.3 872.3 2124.3 868.6 2125.3 871.5 2126.3 872.3 2127.3 870 2128.3 870.7 2129.3 869.9 2130.3 871.3 2131.3 870.4 2132.3 867.2 2133.3 870.4 2134.3 870 2135.3 869.8 2136.3 869.4 2137.3 870.4 2138.3 870.3 2139.3 870.8 2140.3 868 2141.3 870.6 2142.3 870.7 2143.3 870.2 2144.3 870.1 2145.3 869.7 2146.3 869.1 2147.3 869.5 2148.3 868.4 2149.3 869.8 2150.3 869.2 2151.3 870 2152.3 869.4 2153.3 869.6 2154.3 870.3 2155.3 870.5 2156.3 869.5 2157.3 864.5 2158.3 868 2159.3 869.4 2160.3 868.1 2161.3 866.4 2162.3 869.9 2163.3 868.5 2164.3 868.4 2165.3 869.5 2166.3 869.8 2167.3 869.6 2168.3 869.6 2169.3 870.9 2170.3 871.3 2171.3 871.9 2172.3 871.8 2173.3 871.8 2174.3 871.7 2175.3 869.8 2176.3 872 2177.3 870.8 2178.3 870.8 2179.3 871.4 2180.3 871 2181.3 870.2 2182.3 871 2183.3 869.6 2184.3 870.1 2185.3 869.7 2186.3 870 2187.3 870.4 2188.3 872.2 2189.3 872 2190.3 871.5 2191.3 872.2 2192.3 872.2 2193.3 871.2 2194.3 871.2 2195.3 867.7 2196.3 872.8 2197.3 872.1 2198.3 867.6 2199.3 872.8 2200.3 873.3 2201.3 872.8 2202.3 872.6 2203.3 866.7 2204.3 871.9 2205.3 866.5 2206.3 872.2 2207.3 871.3 2208.3 872.5 2209.3 872.8 2210.3 873.2 2211.3 873.2 2212.3 871.8 2213.3 872 2214.3 872 2215.3 871.6 2216.3 871.4 2217.3 872.4 2218.3 872.4 2219.3 872.4 2220.3 873 2221.3 871.7 2222.3 869.6 2223.3 872.6 2224.3 874.1 2225.3 872.4 2226.3 873.2 2227.3 872.8 2228.3 872.5 2229.3 872.2 2230.3 873.3 2231.3 872.8 2232.3 873.3 2233.3 873.2 2234.3 872.6 2235.3 872.9 2236.3 872.9 2237.3 872.8 2238.3 873 2239.3 868.6 2240.3 874 2241.3 872.5 2242.3 873 2243.3 872.9 2244.3 872.6 2245.3 873.4 2246.3 872.3 2247.3 872.5 2248.3 871.8 2249.3 872.9 2250.3 872.3 2251.3 866.7 2252.3 872.3 2253.3 873.6 2254.3 873.6 2255.3 874.4 2256.3 873.3 2257.3 873.3 2258.3 873.5 2259.3 872.8 2260.3 868.5 2261.3 865.1 2262.3 871.8 2263.3 871.7 2264.3 872 2265.3 871.2 2266.3 871.9 2267.3 865.9 2268.3 870.4 2269.3 870.5 2270.3 872.1 2271.3 872.3 2272.3 871.6 2273.3 872.4 2274.3 873 2275.3 873.4 2276.3 873.4 2277.3 872.7 2278.3 873 2279.3 872.6 2280.3 873.3 2281.3 873.5 2282.3 872.7 2283.3 874.5 2284.3 872.6 2285.3 871.8 2286.3 868 2287.3 872.6 2288.3 872.6 2289.3 871.9 2290.3 871.8 2291.3 870.9 2292.3 871.7 2293.3 872.1 2294.3 872.1 2295.3 871.6 2296.3 872 2297.3 873.2 2298.3 871.7 2299.3 872 2300.3 872 2301.3 869.2 2302.3 872.2 2303.3 871.2 2304.3 868.9 2305.3 871.1 2306.3 866.3 2307.3 873.1 2308.3 874.2 2309.3 873.9 2310.3 874.2 2311.3 874.5 2312.3 874.5 2313.3 873.6 2314.3 873.1 2315.3 874.8 2316.3 871.6 2317.3 875 2318.3 874.4 2319.3 874.2 2320.3 875.8 2321.3 874.5 2322.3 876.4 2323.3 876 2324.3 872.9 2325.3 877.2 2326.3 878 2327.3 877.8 2328.3 876.1 2329.3 878.7 2330.3 878.4 2331.3 877.9 2332.3 878 2333.3 878.3 2334.3 879.3 2335.3 878 2336.3 879.3 2337.3 879.1 2338.3 880.2 2339.3 880.6 2340.3 880.1 2341.3 879.5 2342.3 881.2 2343.3 880.3 2344.3 880.4 2345.3 881.1 2346.3 881 2347.3 881.9 2348.3 882.7 2349.3 882.2 2350.3 881.5 2351.3 881.3 2352.3 882.1 2353.3 883.9 2354.3 883 2355.3 883.5 2356.3 882.9 2357.3 884.2 2358.3 883.9 2359.3 885 2360.3 884.9 2361.3 884.9 2362.3 884.4 2363.3 884.6 2364.3 885.4 2365.3 886.4 2366.3 886.5 2367.3 883 2368.3 885.3 2369.3 886.9 2370.3 887.8 2371.3 886.5 2372.3 887.1 2373.3 886.8 2374.3 887.6 2375.3 888.3 2376.3 888.5 2377.3 888.8 2378.3 888.2 2379.3 889.2 2380.3 890.1 2381.3 890.2 2382.3 890.5 2383.3 890.3 2384.3 889.5 2385.3 890.1 2386.3 889.4 2387.3 890.2 2388.3 890 2389.3 890.8 2390.3 891.3 2391.3 891.1 2392.3 891.4 2393.3 892.1 2394.3 891.6 2395.3 893.5 2396.3 892.7 2397.3 893.5 2398.3 893.4 2399.3 891.9 2400.3 886.1 2401.3 892.3 2402.3 891.8 2403.3 893.1 2404.3 893 2405.3 892 2406.3 892 2407.3 891.8 2408.3 892.5 2409.3 892.4 2410.3 892.6 2411.3 892.7 2412.3 887.8 2413.3 891.4 2414.3 894 2415.3 893.2 2416.3 892.1 2417.3 892.8 2418.3 893.7 2419.3 894 2420.3 893.9 2421.3 895.3 2422.3 893.4 2423.3 893.8 2424.3 894.1 2425.3 893.1 2426.3 893.5 2427.3 893 2428.3 891.4 2429.3 891.2 2430.3 890.7 2431.3 889.9 2432.3 890.6 2433.3 888.2 2434.3 889.3 2435.3 887.6 2436.3 886.6 2437.3 887.3 2438.3 885.7 2439.3 885.3 2440.3 884.2 2441.3 885.2 2442.3 883.8 2443.3 883.9 2444.3 884.3 2445.3 883.8 2446.3 881.9 2447.3 878.1 2448.3 883.1 2449.3 881.5 2450.3 882.1 2451.3 882.7 2452.3 882 2453.3 881.7 2454.3 881.2 2455.3 881.4 2456.3 882.7 2457.3 882 2458.3 883.5 2459.3 883.3 2460.3 882.5 2461.3 882.3 2462.3 881.9 2463.3 882.3 2464.3 878.7 2465.3 880.9 2466.3 881.4 2467.3 881 2468.3 880.5 2469.3 879.2 2470.3 878 2471.3 879.8 2472.3 877.9 2473.3 880.6 2474.3 880.2 2475.3 880.4 2476.3 879.5 2477.3 879.8 2478.3 878.2 2479.3 879 2480.3 877.8 2481.3 878 2482.3 878.8 2483.3 877.4 2484.3 874.2 2485.3 879 2486.3 878.3 2487.3 879.1 2488.3 875.7 2489.3 878.3 2490.3 878.8 2491.3 878.1 2492.3 878.2 2493.3 878.7 2494.3 878.3 2495.3 876.6 2496.3 879.2 2497.3 878.6 2498.3 878.2 2499.3 878.9 2500.3 878.5 2501.3 879 2502.3 878.4 2503.3 877.5 2504.3 877.5 2505.3 877.3 2506.3 876.8 2507.3 877.4 2508.3 878.5 2509.3 877.4 2510.3 877.6 2511.3 877.5 2512.3 877.3 2513.3 876.6 2514.3 870.7 2515.3 877.7 2516.3 878 2517.3 878.2 2518.3 877.4 2519.3 878.9 2520.3 877.5 2521.3 878 2522.3 876.5 2523.3 876.4 2524.3 876.3 2525.3 876.9 2526.3 877.8 2527.3 878 2528.3 876.7 L2528.3 1016 L2003.3 1016Z" fill="#333238"/><path d="M2003.3 870 2004.3 871.6 2005.3 867.2 2006.3 872.3 2007.3 872 2008.3 871.3 2009.3 872.3 2010.3 872.5 2011.3 867.5 2012.3 872.4 2013.3 871.8 2014.3 871 2015.3 871.9 2016.3 871.2 2017.3 872 2018.3 871.4 2019.3 868.8 2020.3 865.2 2021.3 870.7 2022.3 870.6 2023.3 871.5 2024.3 871.5 2025.3 872.5 2026.3 872 2027.3 871.4 2028.3 871.4 2029.3 871.4 2030.3 870.9 2031.3 871.3 2032.3 871.8 2033.3 871.4 2034.3 871.7 2035.3 872.8 2036.3 872.1 2037.3 872 2038.3 873.1 2039.3 871.7 2040.3 872.6 2041.3 871.2 2042.3 871.8 2043.3 871.5 2044.3 872.9 2045.3 872.4 2046.3 872.8 2047.3 873 2048.3 873.1 2049.3 872.2 2050.3 872.8 2051.3 872.6 2052.3 873.1 2053.3 872.4 2054.3 873.1 2055.3 872.8 2056.3 872.6 2057.3 873.9 2058.3 874.1 2059.3 873.9 2060.3 872.8 2061.3 872.9 2062.3 873.6 2063.3 873.3 2064.3 873.4 2065.3 873.9 2066.3 870.7 2067.3 873 2068.3 874.1 2069.3 873.2 2070.3 874.1 2071.3 873.5 2072.3 873.7 2073.3 874.5 2074.3 872.4 2075.3 873 2076.3 873.4 2077.3 873 2078.3 873.3 2079.3 872.9 2080.3 873.9 2081.3 870.9 2082.3 873.3 2083.3 873.7 2084.3 873 2085.3 874.2 2086.3 874.6 2087.3 873.7 2088.3 874.1 2089.3 874.9 2090.3 874.3 2091.3 873.8 2092.3 874.2 2093.3 873.5 2094.3 873.6 2095.3 871.4 2096.3 871.3 2097.3 871.5 2098.3 871.7 2099.3 870.7 2100.3 870.5 2101.3 866 2102.3 871.2 2103.3 872.1 2104.3 869.4 2105.3 871.9 2106.3 871.2 2107.3 872.5 2108.3 872 2109.3 873.4 2110.3 873.9 2111.3 873.2 2112.3 873 2113.3 868.5 2114.3 872.6 2115.3 873.7 2116.3 872.4 2117.3 872.6 2118.3 872.2 2119.3 869.8 2120.3 872.7 2121.3 873.5 2122.3 873 2123.3 872.3 2124.3 868.6 2125.3 871.5 2126.3 872.3 2127.3 870 2128.3 870.7 2129.3 869.9 2130.3 871.3 2131.3 870.4 2132.3 867.2 2133.3 870.4 2134.3 870 2135.3 869.8 2136.3 869.4 2137.3 870.4 2138.3 870.3 2139.3 870.8 2140.3 868 2141.3 870.6 2142.3 870.7 2143.3 870.2 2144.3 870.1 2145.3 869.7 2146.3 869.1 2147.3 869.5 2148.3 868.4 2149.3 869.8 2150.3 869.2 2151.3 870 2152.3 869.4 2153.3 869.6 2154.3 870.3 2155.3 870.5 2156.3 869.5 2157.3 864.5 2158.3 868 2159.3 869.4 2160.3 868.1 2161.3 866.4 2162.3 869.9 2163.3 868.5 2164.3 868.4 2165.3 869.5 2166.3 869.8 2167.3 869.6 2168.3 869.6 2169.3 870.9 2170.3 871.3 2171.3 871.9 2172.3 871.8 2173.3 871.8 2174.3 871.7 2175.3 869.8 2176.3 872 2177.3 870.8 2178.3 870.8 2179.3 871.4 2180.3 871 2181.3 870.2 2182.3 871 2183.3 869.6 2184.3 870.1 2185.3 869.7 2186.3 870 2187.3 870.4 2188.3 872.2 2189.3 872 2190.3 871.5 2191.3 872.2 2192.3 872.2 2193.3 871.2 2194.3 871.2 2195.3 867.7 2196.3 872.8 2197.3 872.1 2198.3 867.6 2199.3 872.8 2200.3 873.3 2201.3 872.8 2202.3 872.6 2203.3 866.7 2204.3 871.9 2205.3 866.5 2206.3 872.2 2207.3 871.3 2208.3 872.5 2209.3 872.8 2210.3 873.2 2211.3 873.2 2212.3 871.8 2213.3 872 2214.3 872 2215.3 871.6 2216.3 871.4 2217.3 872.4 2218.3 872.4 2219.3 872.4 2220.3 873 2221.3 871.7 2222.3 869.6 2223.3 872.6 2224.3 874.1 2225.3 872.4 2226.3 873.2 2227.3 872.8 2228.3 872.5 2229.3 872.2 2230.3 873.3 2231.3 872.8 2232.3 873.3 2233.3 873.2 2234.3 872.6 2235.3 872.9 2236.3 872.9 2237.3 872.8 2238.3 873 2239.3 868.6 2240.3 874 2241.3 872.5 2242.3 873 2243.3 872.9 2244.3 872.6 2245.3 873.4 2246.3 872.3 2247.3 872.5 2248.3 871.8 2249.3 872.9 2250.3 872.3 2251.3 866.7 2252.3 872.3 2253.3 873.6 2254.3 873.6 2255.3 874.4 2256.3 873.3 2257.3 873.3 2258.3 873.5 2259.3 872.8 2260.3 868.5 2261.3 865.1 2262.3 871.8 2263.3 871.7 2264.3 872 2265.3 871.2 2266.3 871.9 2267.3 865.9 2268.3 870.4 2269.3 870.5 2270.3 872.1 2271.3 872.3 2272.3 871.6 2273.3 872.4 2274.3 873 2275.3 873.4 2276.3 873.4 2277.3 872.7 2278.3 873 2279.3 872.6 2280.3 873.3 2281.3 873.5 2282.3 872.7 2283.3 874.5 2284.3 872.6 2285.3 871.8 2286.3 868 2287.3 872.6 2288.3 872.6 2289.3 871.9 2290.3 871.8 2291.3 870.9 2292.3 871.7 2293.3 872.1 2294.3 872.1 2295.3 871.6 2296.3 872 2297.3 873.2 2298.3 871.7 2299.3 872 2300.3 872 2301.3 869.2 2302.3 872.2 2303.3 871.2 2304.3 868.9 2305.3 871.1 2306.3 866.3 2307.3 873.1 2308.3 874.2 2309.3 873.9 2310.3 874.2 2311.3 874.5 2312.3 874.5 2313.3 873.6 2314.3 873.1 2315.3 874.8 2316.3 871.6 2317.3 875 2318.3 874.4 2319.3 874.2 2320.3 875.8 2321.3 874.5 2322.3 876.4 2323.3 876 2324.3 872.9 2325.3 877.2 2326.3 878 2327.3 877.8 2328.3 876.1 2329.3 878.7 2330.3 878.4 2331.3 877.9 2332.3 878 2333.3 878.3 2334.3 879.3 2335.3 878 2336.3 879.3 2337.3 879.1 2338.3 880.2 2339.3 880.6 2340.3 880.1 2341.3 879.5 2342.3 881.2 2343.3 880.3 2344.3 880.4 2345.3 881.1 2346.3 881 2347.3 881.9 2348.3 882.7 2349.3 882.2 2350.3 881.5 2351.3 881.3 2352.3 882.1 2353.3 883.9 2354.3 883 2355.3 883.5 2356.3 882.9 2357.3 884.2 2358.3 883.9 2359.3 885 2360.3 884.9 2361.3 884.9 2362.3 884.4 2363.3 884.6 2364.3 885.4 2365.3 886.4 2366.3 886.5 2367.3 883 2368.3 885.3 2369.3 886.9 2370.3 887.8 2371.3 886.5 2372.3 887.1 2373.3 886.8 2374.3 887.6 2375.3 888.3 2376.3 888.5 2377.3 888.8 2378.3 888.2 2379.3 889.2 2380.3 890.1 2381.3 890.2 2382.3 890.5 2383.3 890.3 2384.3 889.5 2385.3 890.1 2386.3 889.4 2387.3 890.2 2388.3 890 2389.3 890.8 2390.3 891.3 2391.3 891.1 2392.3 891.4 2393.3 892.1 2394.3 891.6 2395.3 893.5 2396.3 892.7 2397.3 893.5 2398.3 893.4 2399.3 891.9 2400.3 886.1 2401.3 892.3 2402.3 891.8 2403.3 893.1 2404.3 893 2405.3 892 2406.3 892 2407.3 891.8 2408.3 892.5 2409.3 892.4 2410.3 892.6 2411.3 892.7 2412.3 887.8 2413.3 891.4 2414.3 894 2415.3 893.2 2416.3 892.1 2417.3 892.8 2418.3 893.7 2419.3 894 2420.3 893.9 2421.3 895.3 2422.3 893.4 2423.3 893.8 2424.3 894.1 2425.3 893.1 2426.3 893.5 2427.3 893 2428.3 891.4 2429.3 891.2 2430.3 890.7 2431.3 889.9 2432.3 890.6 2433.3 888.2 2434.3 889.3 2435.3 887.6 2436.3 886.6 2437.3 887.3 2438.3 885.7 2439.3 885.3 2440.3 884.2 2441.3 885.2 2442.3 883.8 2443.3 883.9 2444.3 884.3 2445.3 883.8 2446.3 881.9 2447.3 878.1 2448.3 883.1 2449.3 881.5 2450.3 882.1 2451.3 882.7 2452.3 882 2453.3 881.7 2454.3 881.2 2455.3 881.4 2456.3 882.7 2457.3 882 2458.3 883.5 2459.3 883.3 2460.3 882.5 2461.3 882.3 2462.3 881.9 2463.3 882.3 2464.3 878.7 2465.3 880.9 2466.3 881.4 2467.3 881 2468.3 880.5 2469.3 879.2 2470.3 878 2471.3 879.8 2472.3 877.9 2473.3 880.6 2474.3 880.2 2475.3 880.4 2476.3 879.5 2477.3 879.8 2478.3 878.2 2479.3 879 2480.3 877.8 2481.3 878 2482.3 878.8 2483.3 877.4 2484.3 874.2 2485.3 879 2486.3 878.3 2487.3 879.1 2488.3 875.7 2489.3 878.3 2490.3 878.8 2491.3 878.1 2492.3 878.2 2493.3 878.7 2494.3 878.3 2495.3 876.6 2496.3 879.2 2497.3 878.6 2498.3 878.2 2499.3 878.9 2500.3 878.5 2501.3 879 2502.3 878.4 2503.3 877.5 2504.3 877.5 2505.3 877.3 2506.3 876.8 2507.3 877.4 2508.3 878.5 2509.3 877.4 2510.3 877.6 2511.3 877.5 2512.3 877.3 2513.3 876.6 2514.3 870.7 2515.3 877.7 2516.3 878 2517.3 878.2 2518.3 877.4 2519.3 878.9 2520.3 877.5 2521.3 878 2522.3 876.5 2523.3 876.4 2524.3 876.3 2525.3 876.9 2526.3 877.8 2527.3 878 2528.3 876.7 L2528.3 882.4 2527.3 890.6 2526.3 882.7 2525.3 882.6 2524.3 884.3 2523.3 882.3 2522.3 882.9 2521.3 885.7 2520.3 891.1 2519.3 883.2 2518.3 883.5 2517.3 884.3 2516.3 891.1 2515.3 883.4 2514.3 883.6 2513.3 882.9 2512.3 891.4 2511.3 883.7 2510.3 883.7 2509.3 888.8 2508.3 887.1 2507.3 884.6 2506.3 884.6 2505.3 890.9 2504.3 885.4 2503.3 885.1 2502.3 884.9 2501.3 885.8 2500.3 884.5 2499.3 884.8 2498.3 892 2497.3 889 2496.3 884 2495.3 891.1 2494.3 885 2493.3 885.1 2492.3 891.3 2491.3 884.4 2490.3 884.6 2489.3 885 2488.3 885.1 2487.3 890.7 2486.3 892.3 2485.3 885 2484.3 885 2483.3 884.7 2482.3 884.6 2481.3 884.5 2480.3 884 2479.3 884.9 2478.3 884.6 2477.3 885.6 2476.3 886.2 2475.3 886.4 2474.3 886.1 2473.3 886.6 2472.3 886.5 2471.3 886.1 2470.3 886.4 2469.3 891.9 2468.3 887.5 2467.3 887.1 2466.3 887.6 2465.3 887.5 2464.3 888.7 2463.3 888.8 2462.3 888.8 2461.3 888.2 2460.3 887.9 2459.3 889 2458.3 888.9 2457.3 888.9 2456.3 888.4 2455.3 888 2454.3 887.1 2453.3 895.2 2452.3 889 2451.3 888 2450.3 889.2 2449.3 896.1 2448.3 888 2447.3 889.4 2446.3 889.3 2445.3 895 2444.3 888.9 2443.3 890.8 2442.3 895.9 2441.3 890 2440.3 891.7 2439.3 891.4 2438.3 898 2437.3 900.1 2436.3 896.6 2435.3 894.5 2434.3 894.4 2433.3 900.8 2432.3 896 2431.3 895.8 2430.3 896.6 2429.3 896.9 2428.3 904 2427.3 901.9 2426.3 906.3 2425.3 904.6 2424.3 905.6 2423.3 900.2 2422.3 900.6 2421.3 901.3 2420.3 905.1 2419.3 901.5 2418.3 900.1 2417.3 900.4 2416.3 905.2 2415.3 898.1 2414.3 904.8 2413.3 899 2412.3 899.7 2411.3 907.5 2410.3 898.5 2409.3 906.2 2408.3 899.2 2407.3 897.9 2406.3 899.2 2405.3 897.9 2404.3 898.1 2403.3 897.6 2402.3 899 2401.3 897.2 2400.3 897.8 2399.3 903.4 2398.3 898.5 2397.3 899.1 2396.3 899.8 2395.3 898.5 2394.3 899.4 2393.3 898.4 2392.3 902.9 2391.3 902.8 2390.3 898.5 2389.3 904 2388.3 904 2387.3 896.5 2386.3 896 2385.3 895.1 2384.3 896.7 2383.3 901.5 2382.3 896.8 2381.3 895.7 2380.3 901.7 2379.3 902.5 2378.3 895.2 2377.3 893.6 2376.3 895.1 2375.3 893.1 2374.3 894.1 2373.3 894.5 2372.3 892.7 2371.3 893.6 2370.3 893.4 2369.3 891.7 2368.3 891.8 2367.3 891.2 2366.3 891.6 2365.3 890.9 2364.3 890.7 2363.3 897 2362.3 891.1 2361.3 891.4 2360.3 890.5 2359.3 898.3 2358.3 889.4 2357.3 892.3 2356.3 889.8 2355.3 889.1 2354.3 890.7 2353.3 888.8 2352.3 896.6 2351.3 888.1 2350.3 888.2 2349.3 887 2348.3 888.1 2347.3 886.9 2346.3 886.3 2345.3 886.7 2344.3 885.9 2343.3 886.8 2342.3 887.1 2341.3 887.2 2340.3 892.8 2339.3 888.8 2338.3 884.7 2337.3 885.9 2336.3 886.8 2335.3 884.4 2334.3 884.9 2333.3 885.6 2332.3 883.9 2331.3 885 2330.3 883.3 2329.3 884.3 2328.3 884.4 2327.3 889.1 2326.3 883.5 2325.3 887.5 2324.3 882 2323.3 882.4 2322.3 881.8 2321.3 880.8 2320.3 881.8 2319.3 880.7 2318.3 882 2317.3 881.2 2316.3 881 2315.3 881.8 2314.3 889 2313.3 880.4 2312.3 881 2311.3 882 2310.3 880.6 2309.3 879.3 2308.3 879.9 2307.3 879.5 2306.3 877.8 2305.3 881.2 2304.3 878.5 2303.3 877.2 2302.3 881.1 2301.3 878.1 2300.3 879.2 2299.3 878.9 2298.3 878 2297.3 878.1 2296.3 878.7 2295.3 878.7 2294.3 877.4 2293.3 885.8 2292.3 878.2 2291.3 883.5 2290.3 878.3 2289.3 878.1 2288.3 879.1 2287.3 879.6 2286.3 877.8 2285.3 878.6 2284.3 879.7 2283.3 880.6 2282.3 885.7 2281.3 879.3 2280.3 879.1 2279.3 879.7 2278.3 879.5 2277.3 883.6 2276.3 878.3 2275.3 878.4 2274.3 878.2 2273.3 877.3 2272.3 878.1 2271.3 878.8 2270.3 877.6 2269.3 878.5 2268.3 878.3 2267.3 876.6 2266.3 877.7 2265.3 876.5 2264.3 882 2263.3 877.6 2262.3 878.3 2261.3 877 2260.3 882.9 2259.3 877.5 2258.3 878 2257.3 878.6 2256.3 884.3 2255.3 885.6 2254.3 880.3 2253.3 880.1 2252.3 879.2 2251.3 878.2 2250.3 881.1 2249.3 879.5 2248.3 877.7 2247.3 878.8 2246.3 878.1 2245.3 878.4 2244.3 879.1 2243.3 882.3 2242.3 885.4 2241.3 879.1 2240.3 886.7 2239.3 879.4 2238.3 878.3 2237.3 879.6 2236.3 884 2235.3 886.7 2234.3 879.6 2233.3 882 2232.3 878.7 2231.3 885.2 2230.3 878.4 2229.3 880.2 2228.3 886.8 2227.3 880.2 2226.3 886.8 2225.3 879.6 2224.3 888.3 2223.3 883.8 2222.3 880.3 2221.3 879.1 2220.3 877.8 2219.3 879.5 2218.3 878.4 2217.3 878.5 2216.3 878.8 2215.3 884 2214.3 878.6 2213.3 877.8 2212.3 878.1 2211.3 877.8 2210.3 888.1 2209.3 878.5 2208.3 877.7 2207.3 877.9 2206.3 881 2205.3 878.3 2204.3 882.8 2203.3 887.2 2202.3 885 2201.3 878.1 2200.3 879.7 2199.3 880.2 2198.3 885.7 2197.3 882.1 2196.3 878.4 2195.3 878.8 2194.3 878.7 2193.3 877.5 2192.3 877.9 2191.3 886.9 2190.3 881.5 2189.3 878.4 2188.3 876.5 2187.3 876.1 2186.3 877.7 2185.3 876.1 2184.3 875.9 2183.3 877.7 2182.3 877.5 2181.3 875.9 2180.3 877.4 2179.3 877.7 2178.3 885.6 2177.3 883.3 2176.3 878.4 2175.3 877.9 2174.3 878.4 2173.3 876.5 2172.3 877.7 2171.3 876.9 2170.3 878.2 2169.3 882.6 2168.3 884.3 2167.3 883.6 2166.3 875.8 2165.3 878.6 2164.3 876 2163.3 875.1 2162.3 875.4 2161.3 875.5 2160.3 877.2 2159.3 875.6 2158.3 883.9 2157.3 874.9 2156.3 875.5 2155.3 874.8 2154.3 876.5 2153.3 876.5 2152.3 874.7 2151.3 875.6 2150.3 875.8 2149.3 875.5 2148.3 879.3 2147.3 875.5 2146.3 875.9 2145.3 875.8 2144.3 876.5 2143.3 876 2142.3 876.6 2141.3 876.8 2140.3 877.3 2139.3 876.8 2138.3 875.7 2137.3 876.2 2136.3 876.6 2135.3 875.7 2134.3 876 2133.3 878.3 2132.3 882.7 2131.3 876.2 2130.3 876.9 2129.3 877 2128.3 876.7 2127.3 877.9 2126.3 877.1 2125.3 879.3 2124.3 877.6 2123.3 877.7 2122.3 879.8 2121.3 878.7 2120.3 879.3 2119.3 877.7 2118.3 878.2 2117.3 878.6 2116.3 886.6 2115.3 879.6 2114.3 889.2 2113.3 880.1 2112.3 878.8 2111.3 879.6 2110.3 886.2 2109.3 880 2108.3 878.3 2107.3 877 2106.3 881.7 2105.3 877.5 2104.3 878 2103.3 877.6 2102.3 880.8 2101.3 876 2100.3 876.8 2099.3 878.2 2098.3 877.4 2097.3 878.9 2096.3 879.8 2095.3 879.1 2094.3 878.5 2093.3 879.2 2092.3 880.7 2091.3 881 2090.3 880.8 2089.3 880.8 2088.3 879.9 2087.3 883.1 2086.3 880.3 2085.3 881.1 2084.3 888.1 2083.3 883 2082.3 883.3 2081.3 881.3 2080.3 887.9 2079.3 888.5 2078.3 879 2077.3 887.7 2076.3 878.4 2075.3 878.3 2074.3 880.7 2073.3 879.5 2072.3 886.6 2071.3 880.3 2070.3 881.3 2069.3 880.2 2068.3 879.4 2067.3 879.3 2066.3 878.8 2065.3 879.5 2064.3 879.5 2063.3 880.4 2062.3 879.1 2061.3 878.4 2060.3 879.1 2059.3 879.1 2058.3 879.5 2057.3 880.5 2056.3 879.7 2055.3 885.2 2054.3 877.7 2053.3 878.2 2052.3 879.3 2051.3 878.1 2050.3 878.7 2049.3 884.6 2048.3 878.5 2047.3 882 2046.3 883.7 2045.3 886.4 2044.3 886.3 2043.3 887.7 2042.3 878 2041.3 877.3 2040.3 881.4 2039.3 878.4 2038.3 879.1 2037.3 879.1 2036.3 877.9 2035.3 879.5 2034.3 883.7 2033.3 878.7 2032.3 878.1 2031.3 878 2030.3 877 2029.3 877.1 2028.3 877.4 2027.3 878.6 2026.3 882.8 2025.3 883.5 2024.3 885.6 2023.3 877.1 2022.3 877.4 2021.3 877.5 2020.3 878.1 2019.3 877.4 2018.3 876.5 2017.3 877.3 2016.3 876.2 2015.3 885.1 2014.3 876.4 2013.3 877.9 2012.3 883.6 2011.3 878.3 2010.3 878 2009.3 878.6 2008.3 885.4 2007.3 877.6 2006.3 883.6 2005.3 877.6 2004.3 884.6 2003.3 881.9Z" fill="#df8d48" stroke="#df8d48" stroke-width="0.5" stroke-linejoin="round"/><rect x="2003.3" y="823.0" width="525.7" height="1.5" fill="#7f2b30"/><rect x="2003.3" y="1015.8" width="525.7" height="1.2" fill="#6a4529"/><g stroke="#787e8c" stroke-width="0.3"><text x="1987.3" y="764.6" text-anchor="end" letter-spacing="0.5">50</text><text x="1987.3" y="828.6" text-anchor="end" letter-spacing="0.5">45</text><text x="1987.3" y="892.6" text-anchor="end" letter-spacing="0.5">40</text><text x="1987.3" y="956.6" text-anchor="end" letter-spacing="0.5">35</text><text x="1987.3" y="1020.6" text-anchor="end" letter-spacing="0.5">30</text><text x="2180.7" y="1049.6" text-anchor="middle" letter-spacing="0.25">Jun 19</text><text x="2358.1" y="1049.6" text-anchor="middle" letter-spacing="0.25">Jun 20</text></g></svg><div class="card" style="left:108px;top:1179px;width:600.8px;height:455.5px"><div class="divider"></div></div><svg class="abs" style="left:653px;top:1206.5px" width="28" height="28" viewBox="0 0 28 28"><circle cx="14" cy="14" r="12.1" fill="#4c5464"/><rect x="12.3" y="8" width="3.4" height="7.2" rx="0.6" fill="#1f2735"/><circle cx="14" cy="18.3" r="1.8" fill="#1f2735"/></svg><svg class="abs" style="left:108px;top:1265px" width="600" height="76" viewBox="108 1265 600 76" font-family="Liberation Sans, sans-serif" font-size="18.6" fill="#787e8c"><g stroke="#787e8c" stroke-width="0.3"><text x="148.0" y="1303.8" text-anchor="end" letter-spacing="0.5">40</text></g></svg><div class="card" style="left:721px;top:1179px;width:600.8px;height:455.5px"><div class="divider"></div></div><svg class="abs" style="left:1266px;top:1206.5px" width="28" height="28" viewBox="0 0 28 28"><circle cx="14" cy="14" r="12.1" fill="#4c5464"/><rect x="12.3" y="8" width="3.4" height="7.2" rx="0.6" fill="#1f2735"/><circle cx="14" cy="18.3" r="1.8" fill="#1f2735"/></svg><svg class="abs" style="left:721px;top:1265px" width="600" height="76" viewBox="721 1265 600 76" font-family="Liberation Sans, sans-serif" font-size="18.6" fill="#787e8c"><g stroke="#787e8c" stroke-width="0.3"><text x="756.0" y="1303.8" text-anchor="end" letter-spacing="0.5">16</text></g></svg><div class="card" style="left:1334px;top:1179px;width:600.8px;height:455.5px"><div class="divider"></div></div><svg class="abs" style="left:1879px;top:1206.5px" width="28" height="28" viewBox="0 0 28 28"><circle cx="14" cy="14" r="12.1" fill="#4c5464"/><rect x="12.3" y="8" width="3.4" height="7.2" rx="0.6" fill="#1f2735"/><circle cx="14" cy="18.3" r="1.8" fill="#1f2735"/></svg><svg class="abs" style="left:1334px;top:1265px" width="600" height="76" viewBox="1334 1265 600 76" font-family="Liberation Sans, sans-serif" font-size="18.6" fill="#787e8c"><g stroke="#787e8c" stroke-width="0.3"><text x="1373.5" y="1303.8" text-anchor="end" letter-spacing="0.5">40</text></g></svg><div class="card" style="left:1947px;top:1179px;width:600.8px;height:455.5px"><div class="divider"></div></div><svg class="abs" style="left:2492px;top:1206.5px" width="28" height="28" viewBox="0 0 28 28"><circle cx="14" cy="14" r="12.1" fill="#4c5464"/><rect x="12.3" y="8" width="3.4" height="7.2" rx="0.6" fill="#1f2735"/><circle cx="14" cy="18.3" r="1.8" fill="#1f2735"/></svg><svg class="abs" style="left:1947px;top:1265px" width="600" height="76" viewBox="1947 1265 600 76" font-family="Liberation Sans, sans-serif" font-size="18.6" fill="#787e8c"><g stroke="#787e8c" stroke-width="0.3"><text x="1982.0" y="1303.8" text-anchor="end" letter-spacing="0.5">16</text></g></svg><span class="t" style="left:138.3px;top:199.7px;font-size:26.6px;font-weight:400;color:#f3f4f6;letter-spacing:1.291px;-webkit-text-stroke:0.85px #f3f4f6;">Ambient Temperature</span><span class="t" style="left:489.8px;top:194.0px;font-size:37.6px;font-weight:700;color:#94cb43;letter-spacing:0.666px;">39.22°C</span><span class="t" style="left:751.3px;top:199.7px;font-size:26.6px;font-weight:400;color:#f3f4f6;letter-spacing:0.768px;-webkit-text-stroke:0.85px #f3f4f6;">Depth of Discharge (DOD)</span><span class="t" style="left:1131.2px;top:194.0px;font-size:37.6px;font-weight:700;color:#df8d48;letter-spacing:1.309px;">5.41%</span><span class="t" style="left:1364.3px;top:199.7px;font-size:26.6px;font-weight:400;color:#f3f4f6;letter-spacing:0.862px;-webkit-text-stroke:0.85px #f3f4f6;">Total Internal Resistance</span><span class="t" style="left:1752.1px;top:194.0px;font-size:37.6px;font-weight:700;color:#5db2f8;letter-spacing:0.155px;">9.52Ω</span><span class="t" style="left:1977.3px;top:199.7px;font-size:26.6px;font-weight:400;color:#f3f4f6;letter-spacing:0.574px;-webkit-text-stroke:0.85px #f3f4f6;">State of Charge (SOC)</span><span class="t" style="left:2333.7px;top:194.0px;font-size:37.6px;font-weight:700;color:#c850e6;letter-spacing:1.569px;">94.59%</span><span class="t" style="left:138.3px;top:667.7px;font-size:26.6px;font-weight:400;color:#f3f4f6;letter-spacing:1.148px;-webkit-text-stroke:0.85px #f3f4f6;">System Voltage</span><span class="t" style="left:482.2px;top:662.0px;font-size:37.6px;font-weight:700;color:#5db2f8;letter-spacing:1.297px;">217.21V</span><span class="t" style="left:751.3px;top:667.7px;font-size:26.6px;font-weight:400;color:#f3f4f6;letter-spacing:1.001px;-webkit-text-stroke:0.85px #f3f4f6;">System Current Draw</span><span class="t" style="left:1140.2px;top:662.0px;font-size:37.6px;font-weight:700;color:#c850e6;letter-spacing:0.630px;">0.21A</span><span class="t" style="left:1364.3px;top:667.7px;font-size:26.6px;font-weight:400;color:#f3f4f6;letter-spacing:0.960px;-webkit-text-stroke:0.85px #f3f4f6;">System Power</span><span class="t" style="left:1719.9px;top:662.0px;font-size:37.6px;font-weight:700;color:#94cb43;letter-spacing:1.317px;">45.40W</span><span class="t" style="left:1977.3px;top:667.7px;font-size:26.6px;font-weight:400;color:#f3f4f6;letter-spacing:1.067px;-webkit-text-stroke:0.85px #f3f4f6;">Max. Device Temperature</span><span class="t" style="left:2328.3px;top:662.0px;font-size:37.6px;font-weight:700;color:#df8d48;letter-spacing:0.749px;">40.75°C</span><span class="t" style="left:138.3px;top:1207.7px;font-size:26.6px;font-weight:400;color:#f3f4f6;letter-spacing:0.843px;-webkit-text-stroke:0.85px #f3f4f6;">Battery 1 Temperature</span><span class="t" style="left:489.5px;top:1202.0px;font-size:37.6px;font-weight:700;color:#df8d48;letter-spacing:0.716px;">34.86°C</span><span class="t" style="left:751.3px;top:1207.7px;font-size:26.6px;font-weight:400;color:#f3f4f6;letter-spacing:0.760px;-webkit-text-stroke:0.85px #f3f4f6;">Battery 1 Voltage</span><span class="t" style="left:1117.8px;top:1202.0px;font-size:37.6px;font-weight:700;color:#5db2f8;letter-spacing:1.218px;">13.70V</span><span class="t" style="left:1364.3px;top:1207.7px;font-size:26.6px;font-weight:400;color:#f3f4f6;letter-spacing:1.123px;-webkit-text-stroke:0.85px #f3f4f6;">Battery 2 Temperature</span><span class="t" style="left:1715.8px;top:1202.0px;font-size:37.6px;font-weight:700;color:#df8d48;letter-spacing:0.666px;">35.35°C</span><span class="t" style="left:1977.3px;top:1207.7px;font-size:26.6px;font-weight:400;color:#f3f4f6;letter-spacing:1.053px;-webkit-text-stroke:0.85px #f3f4f6;">Battery 2 Voltage</span><span class="t" style="left:2344.3px;top:1202.0px;font-size:37.6px;font-weight:700;color:#5db2f8;letter-spacing:1.118px;">13.49V</span><span class="t" style="left:175.0px;top:31.2px;font-size:37.2px;font-weight:700;color:#ffffff;letter-spacing:-1.918px;">VOLTRACK</span><span class="t" style="left:109.1px;top:116.9px;font-size:36px;font-weight:700;color:#f3f4f6;letter-spacing:-0.309px;">Tracklink Pro</span><span class="t" style="left:109.1px;top:1124.9px;font-size:36px;font-weight:700;color:#f3f4f6;letter-spacing:0.020px;">Tracklink Nodes</span><span class="t" style="left:1806.5px;top:37.1px;font-size:24.2px;font-weight:400;color:#f3f4f6;letter-spacing:0.791px;-webkit-text-stroke:0.5px #f3f4f6;">Interactive</span><span class="t" style="left:2049.0px;top:36.8px;font-size:24.8px;font-weight:400;color:#e5e7eb;letter-spacing:0.153px;-webkit-text-stroke:0.25px #e5e7eb;">Tracklink 20241019</span><span class="t" style="left:2456.4px;top:37.1px;font-size:24.5px;font-weight:400;color:#e5e7eb;letter-spacing:-0.143px;-webkit-text-stroke:0.25px #e5e7eb;">Sharda</span></div>
<div id="winT"></div><div id="winT2"></div><div id="winL"></div><div id="winL2"></div><div id="winR"></div><div id="winR2"></div>
</body></html>
